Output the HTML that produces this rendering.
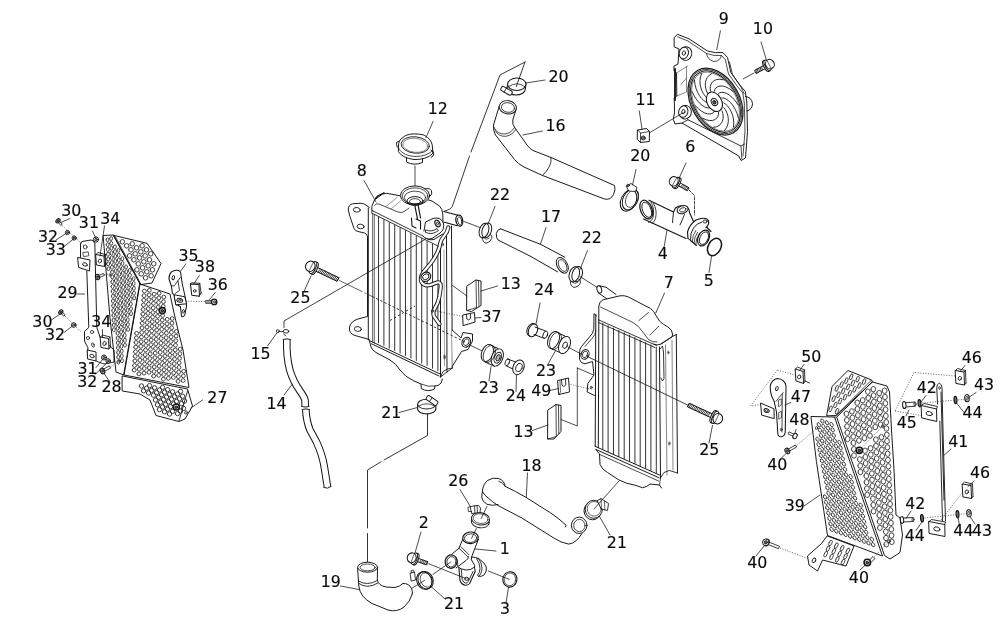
<!DOCTYPE html>
<html lang="en"><head><meta charset="utf-8"><title>Cooling system - exploded view</title>
<style>html,body{margin:0;padding:0;background:#fff;overflow:hidden}svg{display:block}text{font-family:"DejaVu Sans","Liberation Sans",sans-serif;fill:#0a0a0a;stroke:#0a0a0a;stroke-width:0.15px;stroke-linejoin:round}</style></head>
<body>
<svg width="1000" height="631" viewBox="0 0 1000 631" stroke-linecap="round" stroke-linejoin="round">
<rect width="1000" height="631" fill="#fff"/>
<g id="guard-left">
<path d="M106.1 239.7a1.45 2.0 5 1 0 2.9 0.3a1.45 2.0 5 1 0 -2.9 -0.3M106.2 244.5a1.45 2.0 5 1 0 2.9 0.3a1.45 2.0 5 1 0 -2.9 -0.3M106.4 249.3a1.45 2.0 5 1 0 2.9 0.3a1.45 2.0 5 1 0 -2.9 -0.3M106.5 254.1a1.45 2.0 5 1 0 2.9 0.3a1.45 2.0 5 1 0 -2.9 -0.3M106.7 258.9a1.45 2.0 5 1 0 2.9 0.3a1.45 2.0 5 1 0 -2.9 -0.3M106.8 263.7a1.45 2.0 5 1 0 2.9 0.3a1.45 2.0 5 1 0 -2.9 -0.3M107.0 268.5a1.45 2.0 5 1 0 2.9 0.3a1.45 2.0 5 1 0 -2.9 -0.3M109.6 238.4a1.45 2.0 5 1 0 2.9 0.3a1.45 2.0 5 1 0 -2.9 -0.3M109.7 243.2a1.45 2.0 5 1 0 2.9 0.3a1.45 2.0 5 1 0 -2.9 -0.3M109.9 248.0a1.45 2.0 5 1 0 2.9 0.3a1.45 2.0 5 1 0 -2.9 -0.3M110.0 252.8a1.45 2.0 5 1 0 2.9 0.3a1.45 2.0 5 1 0 -2.9 -0.3M110.2 257.6a1.45 2.0 5 1 0 2.9 0.3a1.45 2.0 5 1 0 -2.9 -0.3M110.3 262.4a1.45 2.0 5 1 0 2.9 0.3a1.45 2.0 5 1 0 -2.9 -0.3M110.5 267.2a1.45 2.0 5 1 0 2.9 0.3a1.45 2.0 5 1 0 -2.9 -0.3M110.6 272.0a1.45 2.0 5 1 0 2.9 0.3a1.45 2.0 5 1 0 -2.9 -0.3M110.8 276.8a1.45 2.0 5 1 0 2.9 0.3a1.45 2.0 5 1 0 -2.9 -0.3M110.9 281.6a1.45 2.0 5 1 0 2.9 0.3a1.45 2.0 5 1 0 -2.9 -0.3M111.1 286.4a1.45 2.0 5 1 0 2.9 0.3a1.45 2.0 5 1 0 -2.9 -0.3M111.2 291.2a1.45 2.0 5 1 0 2.9 0.3a1.45 2.0 5 1 0 -2.9 -0.3M111.4 296.0a1.45 2.0 5 1 0 2.9 0.3a1.45 2.0 5 1 0 -2.9 -0.3M111.5 300.8a1.45 2.0 5 1 0 2.9 0.3a1.45 2.0 5 1 0 -2.9 -0.3M111.7 305.6a1.45 2.0 5 1 0 2.9 0.3a1.45 2.0 5 1 0 -2.9 -0.3M111.8 310.4a1.45 2.0 5 1 0 2.9 0.3a1.45 2.0 5 1 0 -2.9 -0.3M112.0 315.2a1.45 2.0 5 1 0 2.9 0.3a1.45 2.0 5 1 0 -2.9 -0.3M112.1 320.0a1.45 2.0 5 1 0 2.9 0.3a1.45 2.0 5 1 0 -2.9 -0.3M112.3 324.8a1.45 2.0 5 1 0 2.9 0.3a1.45 2.0 5 1 0 -2.9 -0.3M112.4 329.6a1.45 2.0 5 1 0 2.9 0.3a1.45 2.0 5 1 0 -2.9 -0.3M113.4 246.7a1.45 2.0 5 1 0 2.9 0.3a1.45 2.0 5 1 0 -2.9 -0.3M113.5 251.5a1.45 2.0 5 1 0 2.9 0.3a1.45 2.0 5 1 0 -2.9 -0.3M113.7 256.3a1.45 2.0 5 1 0 2.9 0.3a1.45 2.0 5 1 0 -2.9 -0.3M113.8 261.1a1.45 2.0 5 1 0 2.9 0.3a1.45 2.0 5 1 0 -2.9 -0.3M114.0 265.9a1.45 2.0 5 1 0 2.9 0.3a1.45 2.0 5 1 0 -2.9 -0.3M114.1 270.7a1.45 2.0 5 1 0 2.9 0.3a1.45 2.0 5 1 0 -2.9 -0.3M114.3 275.5a1.45 2.0 5 1 0 2.9 0.3a1.45 2.0 5 1 0 -2.9 -0.3M114.4 280.3a1.45 2.0 5 1 0 2.9 0.3a1.45 2.0 5 1 0 -2.9 -0.3M114.6 285.1a1.45 2.0 5 1 0 2.9 0.3a1.45 2.0 5 1 0 -2.9 -0.3M114.7 289.9a1.45 2.0 5 1 0 2.9 0.3a1.45 2.0 5 1 0 -2.9 -0.3M114.9 294.7a1.45 2.0 5 1 0 2.9 0.3a1.45 2.0 5 1 0 -2.9 -0.3M115.0 299.5a1.45 2.0 5 1 0 2.9 0.3a1.45 2.0 5 1 0 -2.9 -0.3M115.2 304.3a1.45 2.0 5 1 0 2.9 0.3a1.45 2.0 5 1 0 -2.9 -0.3M115.3 309.1a1.45 2.0 5 1 0 2.9 0.3a1.45 2.0 5 1 0 -2.9 -0.3M115.5 313.9a1.45 2.0 5 1 0 2.9 0.3a1.45 2.0 5 1 0 -2.9 -0.3M115.6 318.7a1.45 2.0 5 1 0 2.9 0.3a1.45 2.0 5 1 0 -2.9 -0.3M115.8 323.5a1.45 2.0 5 1 0 2.9 0.3a1.45 2.0 5 1 0 -2.9 -0.3M115.9 328.3a1.45 2.0 5 1 0 2.9 0.3a1.45 2.0 5 1 0 -2.9 -0.3M116.1 333.1a1.45 2.0 5 1 0 2.9 0.3a1.45 2.0 5 1 0 -2.9 -0.3M116.2 337.9a1.45 2.0 5 1 0 2.9 0.3a1.45 2.0 5 1 0 -2.9 -0.3M116.4 342.7a1.45 2.0 5 1 0 2.9 0.3a1.45 2.0 5 1 0 -2.9 -0.3M116.5 347.5a1.45 2.0 5 1 0 2.9 0.3a1.45 2.0 5 1 0 -2.9 -0.3M116.7 352.3a1.45 2.0 5 1 0 2.9 0.3a1.45 2.0 5 1 0 -2.9 -0.3M116.8 357.1a1.45 2.0 5 1 0 2.9 0.3a1.45 2.0 5 1 0 -2.9 -0.3M117.0 361.9a1.45 2.0 5 1 0 2.9 0.3a1.45 2.0 5 1 0 -2.9 -0.3M117.0 250.2a1.45 2.0 5 1 0 2.9 0.3a1.45 2.0 5 1 0 -2.9 -0.3M117.2 255.0a1.45 2.0 5 1 0 2.9 0.3a1.45 2.0 5 1 0 -2.9 -0.3M117.3 259.8a1.45 2.0 5 1 0 2.9 0.3a1.45 2.0 5 1 0 -2.9 -0.3M117.5 264.6a1.45 2.0 5 1 0 2.9 0.3a1.45 2.0 5 1 0 -2.9 -0.3M117.6 269.4a1.45 2.0 5 1 0 2.9 0.3a1.45 2.0 5 1 0 -2.9 -0.3M117.8 274.2a1.45 2.0 5 1 0 2.9 0.3a1.45 2.0 5 1 0 -2.9 -0.3M117.9 279.0a1.45 2.0 5 1 0 2.9 0.3a1.45 2.0 5 1 0 -2.9 -0.3M118.1 283.8a1.45 2.0 5 1 0 2.9 0.3a1.45 2.0 5 1 0 -2.9 -0.3M118.2 288.6a1.45 2.0 5 1 0 2.9 0.3a1.45 2.0 5 1 0 -2.9 -0.3M118.4 293.4a1.45 2.0 5 1 0 2.9 0.3a1.45 2.0 5 1 0 -2.9 -0.3M118.5 298.2a1.45 2.0 5 1 0 2.9 0.3a1.45 2.0 5 1 0 -2.9 -0.3M118.7 303.0a1.45 2.0 5 1 0 2.9 0.3a1.45 2.0 5 1 0 -2.9 -0.3M118.8 307.8a1.45 2.0 5 1 0 2.9 0.3a1.45 2.0 5 1 0 -2.9 -0.3M119.0 312.6a1.45 2.0 5 1 0 2.9 0.3a1.45 2.0 5 1 0 -2.9 -0.3M119.1 317.4a1.45 2.0 5 1 0 2.9 0.3a1.45 2.0 5 1 0 -2.9 -0.3M119.3 322.2a1.45 2.0 5 1 0 2.9 0.3a1.45 2.0 5 1 0 -2.9 -0.3M119.4 327.0a1.45 2.0 5 1 0 2.9 0.3a1.45 2.0 5 1 0 -2.9 -0.3M119.6 331.8a1.45 2.0 5 1 0 2.9 0.3a1.45 2.0 5 1 0 -2.9 -0.3M119.7 336.6a1.45 2.0 5 1 0 2.9 0.3a1.45 2.0 5 1 0 -2.9 -0.3M119.9 341.4a1.45 2.0 5 1 0 2.9 0.3a1.45 2.0 5 1 0 -2.9 -0.3M120.0 346.2a1.45 2.0 5 1 0 2.9 0.3a1.45 2.0 5 1 0 -2.9 -0.3M120.2 351.0a1.45 2.0 5 1 0 2.9 0.3a1.45 2.0 5 1 0 -2.9 -0.3M120.3 355.8a1.45 2.0 5 1 0 2.9 0.3a1.45 2.0 5 1 0 -2.9 -0.3M120.5 360.6a1.45 2.0 5 1 0 2.9 0.3a1.45 2.0 5 1 0 -2.9 -0.3M120.8 258.5a1.45 2.0 5 1 0 2.9 0.3a1.45 2.0 5 1 0 -2.9 -0.3M121.0 263.3a1.45 2.0 5 1 0 2.9 0.3a1.45 2.0 5 1 0 -2.9 -0.3M121.1 268.1a1.45 2.0 5 1 0 2.9 0.3a1.45 2.0 5 1 0 -2.9 -0.3M121.3 272.9a1.45 2.0 5 1 0 2.9 0.3a1.45 2.0 5 1 0 -2.9 -0.3M121.4 277.7a1.45 2.0 5 1 0 2.9 0.3a1.45 2.0 5 1 0 -2.9 -0.3M121.6 282.5a1.45 2.0 5 1 0 2.9 0.3a1.45 2.0 5 1 0 -2.9 -0.3M121.7 287.3a1.45 2.0 5 1 0 2.9 0.3a1.45 2.0 5 1 0 -2.9 -0.3M121.9 292.1a1.45 2.0 5 1 0 2.9 0.3a1.45 2.0 5 1 0 -2.9 -0.3M122.0 296.9a1.45 2.0 5 1 0 2.9 0.3a1.45 2.0 5 1 0 -2.9 -0.3M122.2 301.7a1.45 2.0 5 1 0 2.9 0.3a1.45 2.0 5 1 0 -2.9 -0.3M122.3 306.5a1.45 2.0 5 1 0 2.9 0.3a1.45 2.0 5 1 0 -2.9 -0.3M122.5 311.3a1.45 2.0 5 1 0 2.9 0.3a1.45 2.0 5 1 0 -2.9 -0.3M122.6 316.1a1.45 2.0 5 1 0 2.9 0.3a1.45 2.0 5 1 0 -2.9 -0.3M122.8 320.9a1.45 2.0 5 1 0 2.9 0.3a1.45 2.0 5 1 0 -2.9 -0.3M122.9 325.7a1.45 2.0 5 1 0 2.9 0.3a1.45 2.0 5 1 0 -2.9 -0.3M123.1 330.5a1.45 2.0 5 1 0 2.9 0.3a1.45 2.0 5 1 0 -2.9 -0.3M123.2 335.3a1.45 2.0 5 1 0 2.9 0.3a1.45 2.0 5 1 0 -2.9 -0.3M123.4 340.1a1.45 2.0 5 1 0 2.9 0.3a1.45 2.0 5 1 0 -2.9 -0.3M123.5 344.9a1.45 2.0 5 1 0 2.9 0.3a1.45 2.0 5 1 0 -2.9 -0.3M124.6 266.8a1.45 2.0 5 1 0 2.9 0.3a1.45 2.0 5 1 0 -2.9 -0.3M124.8 271.6a1.45 2.0 5 1 0 2.9 0.3a1.45 2.0 5 1 0 -2.9 -0.3M124.9 276.4a1.45 2.0 5 1 0 2.9 0.3a1.45 2.0 5 1 0 -2.9 -0.3M125.1 281.2a1.45 2.0 5 1 0 2.9 0.3a1.45 2.0 5 1 0 -2.9 -0.3M125.2 286.0a1.45 2.0 5 1 0 2.9 0.3a1.45 2.0 5 1 0 -2.9 -0.3M125.4 290.8a1.45 2.0 5 1 0 2.9 0.3a1.45 2.0 5 1 0 -2.9 -0.3M125.5 295.6a1.45 2.0 5 1 0 2.9 0.3a1.45 2.0 5 1 0 -2.9 -0.3M125.7 300.4a1.45 2.0 5 1 0 2.9 0.3a1.45 2.0 5 1 0 -2.9 -0.3M125.8 305.2a1.45 2.0 5 1 0 2.9 0.3a1.45 2.0 5 1 0 -2.9 -0.3M126.0 310.0a1.45 2.0 5 1 0 2.9 0.3a1.45 2.0 5 1 0 -2.9 -0.3M126.1 314.8a1.45 2.0 5 1 0 2.9 0.3a1.45 2.0 5 1 0 -2.9 -0.3M126.3 319.6a1.45 2.0 5 1 0 2.9 0.3a1.45 2.0 5 1 0 -2.9 -0.3M126.4 324.4a1.45 2.0 5 1 0 2.9 0.3a1.45 2.0 5 1 0 -2.9 -0.3M126.6 329.2a1.45 2.0 5 1 0 2.9 0.3a1.45 2.0 5 1 0 -2.9 -0.3M128.3 270.3a1.45 2.0 5 1 0 2.9 0.3a1.45 2.0 5 1 0 -2.9 -0.3M128.4 275.1a1.45 2.0 5 1 0 2.9 0.3a1.45 2.0 5 1 0 -2.9 -0.3M128.6 279.9a1.45 2.0 5 1 0 2.9 0.3a1.45 2.0 5 1 0 -2.9 -0.3M128.7 284.7a1.45 2.0 5 1 0 2.9 0.3a1.45 2.0 5 1 0 -2.9 -0.3M128.9 289.5a1.45 2.0 5 1 0 2.9 0.3a1.45 2.0 5 1 0 -2.9 -0.3M129.0 294.3a1.45 2.0 5 1 0 2.9 0.3a1.45 2.0 5 1 0 -2.9 -0.3M129.2 299.1a1.45 2.0 5 1 0 2.9 0.3a1.45 2.0 5 1 0 -2.9 -0.3M129.3 303.9a1.45 2.0 5 1 0 2.9 0.3a1.45 2.0 5 1 0 -2.9 -0.3M129.5 308.7a1.45 2.0 5 1 0 2.9 0.3a1.45 2.0 5 1 0 -2.9 -0.3M129.6 313.5a1.45 2.0 5 1 0 2.9 0.3a1.45 2.0 5 1 0 -2.9 -0.3M132.1 278.6a1.45 2.0 5 1 0 2.9 0.3a1.45 2.0 5 1 0 -2.9 -0.3M132.2 283.4a1.45 2.0 5 1 0 2.9 0.3a1.45 2.0 5 1 0 -2.9 -0.3M132.4 288.2a1.45 2.0 5 1 0 2.9 0.3a1.45 2.0 5 1 0 -2.9 -0.3M132.5 293.0a1.45 2.0 5 1 0 2.9 0.3a1.45 2.0 5 1 0 -2.9 -0.3M132.7 297.8a1.45 2.0 5 1 0 2.9 0.3a1.45 2.0 5 1 0 -2.9 -0.3" fill="none" stroke="#2a2a2a" stroke-width="0.85"/>
<path d="M120.0 241.8a2.3 2.3 0 1 0 4.6 0.0a2.3 2.3 0 1 0 -4.6 -0.0M124.3 245.8a2.3 2.3 0 1 0 4.6 0.0a2.3 2.3 0 1 0 -4.6 -0.0M129.9 243.8a2.3 2.3 0 1 0 4.6 0.0a2.3 2.3 0 1 0 -4.6 -0.0M128.6 249.8a2.3 2.3 0 1 0 4.6 0.0a2.3 2.3 0 1 0 -4.6 -0.0M134.2 247.8a2.3 2.3 0 1 0 4.6 0.0a2.3 2.3 0 1 0 -4.6 -0.0M139.8 245.8a2.3 2.3 0 1 0 4.6 0.0a2.3 2.3 0 1 0 -4.6 -0.0M127.3 255.8a2.3 2.3 0 1 0 4.6 0.0a2.3 2.3 0 1 0 -4.6 -0.0M132.9 253.8a2.3 2.3 0 1 0 4.6 0.0a2.3 2.3 0 1 0 -4.6 -0.0M138.5 251.8a2.3 2.3 0 1 0 4.6 0.0a2.3 2.3 0 1 0 -4.6 -0.0M144.1 249.8a2.3 2.3 0 1 0 4.6 0.0a2.3 2.3 0 1 0 -4.6 -0.0M131.6 259.8a2.3 2.3 0 1 0 4.6 0.0a2.3 2.3 0 1 0 -4.6 -0.0M137.2 257.8a2.3 2.3 0 1 0 4.6 0.0a2.3 2.3 0 1 0 -4.6 -0.0M142.8 255.8a2.3 2.3 0 1 0 4.6 0.0a2.3 2.3 0 1 0 -4.6 -0.0M148.4 253.8a2.3 2.3 0 1 0 4.6 0.0a2.3 2.3 0 1 0 -4.6 -0.0M135.9 263.8a2.3 2.3 0 1 0 4.6 0.0a2.3 2.3 0 1 0 -4.6 -0.0M141.5 261.8a2.3 2.3 0 1 0 4.6 0.0a2.3 2.3 0 1 0 -4.6 -0.0M147.1 259.8a2.3 2.3 0 1 0 4.6 0.0a2.3 2.3 0 1 0 -4.6 -0.0M134.6 269.8a2.3 2.3 0 1 0 4.6 0.0a2.3 2.3 0 1 0 -4.6 -0.0M140.2 267.8a2.3 2.3 0 1 0 4.6 0.0a2.3 2.3 0 1 0 -4.6 -0.0M145.8 265.8a2.3 2.3 0 1 0 4.6 0.0a2.3 2.3 0 1 0 -4.6 -0.0M151.4 263.8a2.3 2.3 0 1 0 4.6 0.0a2.3 2.3 0 1 0 -4.6 -0.0M138.9 273.8a2.3 2.3 0 1 0 4.6 0.0a2.3 2.3 0 1 0 -4.6 -0.0M144.5 271.8a2.3 2.3 0 1 0 4.6 0.0a2.3 2.3 0 1 0 -4.6 -0.0M150.1 269.8a2.3 2.3 0 1 0 4.6 0.0a2.3 2.3 0 1 0 -4.6 -0.0M143.2 277.8a2.3 2.3 0 1 0 4.6 0.0a2.3 2.3 0 1 0 -4.6 -0.0M148.8 275.8a2.3 2.3 0 1 0 4.6 0.0a2.3 2.3 0 1 0 -4.6 -0.0" fill="none" stroke="#2a2a2a" stroke-width="0.9"/>
<path d="M134.7 333.3a1.95 1.9 0 1 0 3.9 0.0a1.95 1.9 0 1 0 -3.9 -0.0M134.4 337.9a1.95 1.9 0 1 0 3.9 0.0a1.95 1.9 0 1 0 -3.9 -0.0M134.1 342.5a1.95 1.9 0 1 0 3.9 0.0a1.95 1.9 0 1 0 -3.9 -0.0M133.8 347.1a1.95 1.9 0 1 0 3.9 0.0a1.95 1.9 0 1 0 -3.9 -0.0M133.5 351.7a1.95 1.9 0 1 0 3.9 0.0a1.95 1.9 0 1 0 -3.9 -0.0M133.2 356.3a1.95 1.9 0 1 0 3.9 0.0a1.95 1.9 0 1 0 -3.9 -0.0M132.9 360.9a1.95 1.9 0 1 0 3.9 0.0a1.95 1.9 0 1 0 -3.9 -0.0M132.6 365.5a1.95 1.9 0 1 0 3.9 0.0a1.95 1.9 0 1 0 -3.9 -0.0M132.2 370.1a1.95 1.9 0 1 0 3.9 0.0a1.95 1.9 0 1 0 -3.9 -0.0M142.4 291.1a1.95 1.9 0 1 0 3.9 0.0a1.95 1.9 0 1 0 -3.9 -0.0M142.1 295.7a1.95 1.9 0 1 0 3.9 0.0a1.95 1.9 0 1 0 -3.9 -0.0M141.8 300.3a1.95 1.9 0 1 0 3.9 0.0a1.95 1.9 0 1 0 -3.9 -0.0M141.5 304.9a1.95 1.9 0 1 0 3.9 0.0a1.95 1.9 0 1 0 -3.9 -0.0M141.2 309.5a1.95 1.9 0 1 0 3.9 0.0a1.95 1.9 0 1 0 -3.9 -0.0M140.9 314.1a1.95 1.9 0 1 0 3.9 0.0a1.95 1.9 0 1 0 -3.9 -0.0M140.6 318.7a1.95 1.9 0 1 0 3.9 0.0a1.95 1.9 0 1 0 -3.9 -0.0M140.2 323.3a1.95 1.9 0 1 0 3.9 0.0a1.95 1.9 0 1 0 -3.9 -0.0M140.0 327.9a1.95 1.9 0 1 0 3.9 0.0a1.95 1.9 0 1 0 -3.9 -0.0M139.7 332.5a1.95 1.9 0 1 0 3.9 0.0a1.95 1.9 0 1 0 -3.9 -0.0M139.4 337.1a1.95 1.9 0 1 0 3.9 0.0a1.95 1.9 0 1 0 -3.9 -0.0M139.1 341.7a1.95 1.9 0 1 0 3.9 0.0a1.95 1.9 0 1 0 -3.9 -0.0M138.8 346.3a1.95 1.9 0 1 0 3.9 0.0a1.95 1.9 0 1 0 -3.9 -0.0M138.5 350.9a1.95 1.9 0 1 0 3.9 0.0a1.95 1.9 0 1 0 -3.9 -0.0M138.2 355.5a1.95 1.9 0 1 0 3.9 0.0a1.95 1.9 0 1 0 -3.9 -0.0M137.9 360.1a1.95 1.9 0 1 0 3.9 0.0a1.95 1.9 0 1 0 -3.9 -0.0M137.6 364.7a1.95 1.9 0 1 0 3.9 0.0a1.95 1.9 0 1 0 -3.9 -0.0M137.2 369.3a1.95 1.9 0 1 0 3.9 0.0a1.95 1.9 0 1 0 -3.9 -0.0M137.0 373.9a1.95 1.9 0 1 0 3.9 0.0a1.95 1.9 0 1 0 -3.9 -0.0M147.4 290.3a1.95 1.9 0 1 0 3.9 0.0a1.95 1.9 0 1 0 -3.9 -0.0M147.1 294.9a1.95 1.9 0 1 0 3.9 0.0a1.95 1.9 0 1 0 -3.9 -0.0M146.8 299.5a1.95 1.9 0 1 0 3.9 0.0a1.95 1.9 0 1 0 -3.9 -0.0M146.5 304.1a1.95 1.9 0 1 0 3.9 0.0a1.95 1.9 0 1 0 -3.9 -0.0M146.2 308.7a1.95 1.9 0 1 0 3.9 0.0a1.95 1.9 0 1 0 -3.9 -0.0M145.9 313.3a1.95 1.9 0 1 0 3.9 0.0a1.95 1.9 0 1 0 -3.9 -0.0M145.6 317.9a1.95 1.9 0 1 0 3.9 0.0a1.95 1.9 0 1 0 -3.9 -0.0M145.2 322.5a1.95 1.9 0 1 0 3.9 0.0a1.95 1.9 0 1 0 -3.9 -0.0M145.0 327.1a1.95 1.9 0 1 0 3.9 0.0a1.95 1.9 0 1 0 -3.9 -0.0M144.7 331.7a1.95 1.9 0 1 0 3.9 0.0a1.95 1.9 0 1 0 -3.9 -0.0M144.4 336.3a1.95 1.9 0 1 0 3.9 0.0a1.95 1.9 0 1 0 -3.9 -0.0M144.1 340.9a1.95 1.9 0 1 0 3.9 0.0a1.95 1.9 0 1 0 -3.9 -0.0M143.8 345.5a1.95 1.9 0 1 0 3.9 0.0a1.95 1.9 0 1 0 -3.9 -0.0M143.5 350.1a1.95 1.9 0 1 0 3.9 0.0a1.95 1.9 0 1 0 -3.9 -0.0M143.2 354.7a1.95 1.9 0 1 0 3.9 0.0a1.95 1.9 0 1 0 -3.9 -0.0M142.9 359.3a1.95 1.9 0 1 0 3.9 0.0a1.95 1.9 0 1 0 -3.9 -0.0M142.6 363.9a1.95 1.9 0 1 0 3.9 0.0a1.95 1.9 0 1 0 -3.9 -0.0M142.2 368.5a1.95 1.9 0 1 0 3.9 0.0a1.95 1.9 0 1 0 -3.9 -0.0M142.0 373.1a1.95 1.9 0 1 0 3.9 0.0a1.95 1.9 0 1 0 -3.9 -0.0M152.1 294.1a1.95 1.9 0 1 0 3.9 0.0a1.95 1.9 0 1 0 -3.9 -0.0M151.8 298.7a1.95 1.9 0 1 0 3.9 0.0a1.95 1.9 0 1 0 -3.9 -0.0M151.5 303.3a1.95 1.9 0 1 0 3.9 0.0a1.95 1.9 0 1 0 -3.9 -0.0M151.2 307.9a1.95 1.9 0 1 0 3.9 0.0a1.95 1.9 0 1 0 -3.9 -0.0M150.9 312.5a1.95 1.9 0 1 0 3.9 0.0a1.95 1.9 0 1 0 -3.9 -0.0M150.6 317.1a1.95 1.9 0 1 0 3.9 0.0a1.95 1.9 0 1 0 -3.9 -0.0M150.2 321.7a1.95 1.9 0 1 0 3.9 0.0a1.95 1.9 0 1 0 -3.9 -0.0M150.0 326.3a1.95 1.9 0 1 0 3.9 0.0a1.95 1.9 0 1 0 -3.9 -0.0M149.7 330.9a1.95 1.9 0 1 0 3.9 0.0a1.95 1.9 0 1 0 -3.9 -0.0M149.4 335.5a1.95 1.9 0 1 0 3.9 0.0a1.95 1.9 0 1 0 -3.9 -0.0M149.1 340.1a1.95 1.9 0 1 0 3.9 0.0a1.95 1.9 0 1 0 -3.9 -0.0M148.8 344.7a1.95 1.9 0 1 0 3.9 0.0a1.95 1.9 0 1 0 -3.9 -0.0M148.5 349.3a1.95 1.9 0 1 0 3.9 0.0a1.95 1.9 0 1 0 -3.9 -0.0M148.2 353.9a1.95 1.9 0 1 0 3.9 0.0a1.95 1.9 0 1 0 -3.9 -0.0M147.9 358.5a1.95 1.9 0 1 0 3.9 0.0a1.95 1.9 0 1 0 -3.9 -0.0M147.6 363.1a1.95 1.9 0 1 0 3.9 0.0a1.95 1.9 0 1 0 -3.9 -0.0M147.2 367.7a1.95 1.9 0 1 0 3.9 0.0a1.95 1.9 0 1 0 -3.9 -0.0M147.0 372.3a1.95 1.9 0 1 0 3.9 0.0a1.95 1.9 0 1 0 -3.9 -0.0M157.1 293.3a1.95 1.9 0 1 0 3.9 0.0a1.95 1.9 0 1 0 -3.9 -0.0M156.8 297.9a1.95 1.9 0 1 0 3.9 0.0a1.95 1.9 0 1 0 -3.9 -0.0M156.5 302.5a1.95 1.9 0 1 0 3.9 0.0a1.95 1.9 0 1 0 -3.9 -0.0M156.2 307.1a1.95 1.9 0 1 0 3.9 0.0a1.95 1.9 0 1 0 -3.9 -0.0M155.9 311.7a1.95 1.9 0 1 0 3.9 0.0a1.95 1.9 0 1 0 -3.9 -0.0M155.6 316.3a1.95 1.9 0 1 0 3.9 0.0a1.95 1.9 0 1 0 -3.9 -0.0M155.2 320.9a1.95 1.9 0 1 0 3.9 0.0a1.95 1.9 0 1 0 -3.9 -0.0M155.0 325.5a1.95 1.9 0 1 0 3.9 0.0a1.95 1.9 0 1 0 -3.9 -0.0M154.7 330.1a1.95 1.9 0 1 0 3.9 0.0a1.95 1.9 0 1 0 -3.9 -0.0M154.4 334.7a1.95 1.9 0 1 0 3.9 0.0a1.95 1.9 0 1 0 -3.9 -0.0M154.1 339.3a1.95 1.9 0 1 0 3.9 0.0a1.95 1.9 0 1 0 -3.9 -0.0M153.8 343.9a1.95 1.9 0 1 0 3.9 0.0a1.95 1.9 0 1 0 -3.9 -0.0M153.5 348.5a1.95 1.9 0 1 0 3.9 0.0a1.95 1.9 0 1 0 -3.9 -0.0M153.2 353.1a1.95 1.9 0 1 0 3.9 0.0a1.95 1.9 0 1 0 -3.9 -0.0M152.9 357.7a1.95 1.9 0 1 0 3.9 0.0a1.95 1.9 0 1 0 -3.9 -0.0M152.6 362.3a1.95 1.9 0 1 0 3.9 0.0a1.95 1.9 0 1 0 -3.9 -0.0M152.2 366.9a1.95 1.9 0 1 0 3.9 0.0a1.95 1.9 0 1 0 -3.9 -0.0M152.0 371.5a1.95 1.9 0 1 0 3.9 0.0a1.95 1.9 0 1 0 -3.9 -0.0M151.7 376.1a1.95 1.9 0 1 0 3.9 0.0a1.95 1.9 0 1 0 -3.9 -0.0M161.8 297.1a1.95 1.9 0 1 0 3.9 0.0a1.95 1.9 0 1 0 -3.9 -0.0M161.5 301.7a1.95 1.9 0 1 0 3.9 0.0a1.95 1.9 0 1 0 -3.9 -0.0M161.2 306.3a1.95 1.9 0 1 0 3.9 0.0a1.95 1.9 0 1 0 -3.9 -0.0M160.6 315.5a1.95 1.9 0 1 0 3.9 0.0a1.95 1.9 0 1 0 -3.9 -0.0M160.2 320.1a1.95 1.9 0 1 0 3.9 0.0a1.95 1.9 0 1 0 -3.9 -0.0M160.0 324.7a1.95 1.9 0 1 0 3.9 0.0a1.95 1.9 0 1 0 -3.9 -0.0M159.7 329.3a1.95 1.9 0 1 0 3.9 0.0a1.95 1.9 0 1 0 -3.9 -0.0M159.4 333.9a1.95 1.9 0 1 0 3.9 0.0a1.95 1.9 0 1 0 -3.9 -0.0M159.1 338.5a1.95 1.9 0 1 0 3.9 0.0a1.95 1.9 0 1 0 -3.9 -0.0M158.8 343.1a1.95 1.9 0 1 0 3.9 0.0a1.95 1.9 0 1 0 -3.9 -0.0M158.5 347.7a1.95 1.9 0 1 0 3.9 0.0a1.95 1.9 0 1 0 -3.9 -0.0M158.2 352.3a1.95 1.9 0 1 0 3.9 0.0a1.95 1.9 0 1 0 -3.9 -0.0M157.9 356.9a1.95 1.9 0 1 0 3.9 0.0a1.95 1.9 0 1 0 -3.9 -0.0M157.6 361.5a1.95 1.9 0 1 0 3.9 0.0a1.95 1.9 0 1 0 -3.9 -0.0M157.2 366.1a1.95 1.9 0 1 0 3.9 0.0a1.95 1.9 0 1 0 -3.9 -0.0M157.0 370.7a1.95 1.9 0 1 0 3.9 0.0a1.95 1.9 0 1 0 -3.9 -0.0M156.7 375.3a1.95 1.9 0 1 0 3.9 0.0a1.95 1.9 0 1 0 -3.9 -0.0M165.2 319.3a1.95 1.9 0 1 0 3.9 0.0a1.95 1.9 0 1 0 -3.9 -0.0M165.0 323.9a1.95 1.9 0 1 0 3.9 0.0a1.95 1.9 0 1 0 -3.9 -0.0M164.7 328.5a1.95 1.9 0 1 0 3.9 0.0a1.95 1.9 0 1 0 -3.9 -0.0M164.4 333.1a1.95 1.9 0 1 0 3.9 0.0a1.95 1.9 0 1 0 -3.9 -0.0M164.1 337.7a1.95 1.9 0 1 0 3.9 0.0a1.95 1.9 0 1 0 -3.9 -0.0M163.8 342.3a1.95 1.9 0 1 0 3.9 0.0a1.95 1.9 0 1 0 -3.9 -0.0M163.5 346.9a1.95 1.9 0 1 0 3.9 0.0a1.95 1.9 0 1 0 -3.9 -0.0M163.2 351.5a1.95 1.9 0 1 0 3.9 0.0a1.95 1.9 0 1 0 -3.9 -0.0M162.9 356.1a1.95 1.9 0 1 0 3.9 0.0a1.95 1.9 0 1 0 -3.9 -0.0M162.6 360.7a1.95 1.9 0 1 0 3.9 0.0a1.95 1.9 0 1 0 -3.9 -0.0M162.2 365.3a1.95 1.9 0 1 0 3.9 0.0a1.95 1.9 0 1 0 -3.9 -0.0M162.0 369.9a1.95 1.9 0 1 0 3.9 0.0a1.95 1.9 0 1 0 -3.9 -0.0M161.7 374.5a1.95 1.9 0 1 0 3.9 0.0a1.95 1.9 0 1 0 -3.9 -0.0M161.4 379.1a1.95 1.9 0 1 0 3.9 0.0a1.95 1.9 0 1 0 -3.9 -0.0M170.2 318.5a1.95 1.9 0 1 0 3.9 0.0a1.95 1.9 0 1 0 -3.9 -0.0M170.0 323.1a1.95 1.9 0 1 0 3.9 0.0a1.95 1.9 0 1 0 -3.9 -0.0M169.7 327.7a1.95 1.9 0 1 0 3.9 0.0a1.95 1.9 0 1 0 -3.9 -0.0M169.4 332.3a1.95 1.9 0 1 0 3.9 0.0a1.95 1.9 0 1 0 -3.9 -0.0M169.1 336.9a1.95 1.9 0 1 0 3.9 0.0a1.95 1.9 0 1 0 -3.9 -0.0M168.8 341.5a1.95 1.9 0 1 0 3.9 0.0a1.95 1.9 0 1 0 -3.9 -0.0M168.5 346.1a1.95 1.9 0 1 0 3.9 0.0a1.95 1.9 0 1 0 -3.9 -0.0M168.2 350.7a1.95 1.9 0 1 0 3.9 0.0a1.95 1.9 0 1 0 -3.9 -0.0M167.9 355.3a1.95 1.9 0 1 0 3.9 0.0a1.95 1.9 0 1 0 -3.9 -0.0M167.6 359.9a1.95 1.9 0 1 0 3.9 0.0a1.95 1.9 0 1 0 -3.9 -0.0M167.2 364.5a1.95 1.9 0 1 0 3.9 0.0a1.95 1.9 0 1 0 -3.9 -0.0M167.0 369.1a1.95 1.9 0 1 0 3.9 0.0a1.95 1.9 0 1 0 -3.9 -0.0M166.7 373.7a1.95 1.9 0 1 0 3.9 0.0a1.95 1.9 0 1 0 -3.9 -0.0M166.4 378.3a1.95 1.9 0 1 0 3.9 0.0a1.95 1.9 0 1 0 -3.9 -0.0M174.4 331.5a1.95 1.9 0 1 0 3.9 0.0a1.95 1.9 0 1 0 -3.9 -0.0M174.1 336.1a1.95 1.9 0 1 0 3.9 0.0a1.95 1.9 0 1 0 -3.9 -0.0M173.8 340.7a1.95 1.9 0 1 0 3.9 0.0a1.95 1.9 0 1 0 -3.9 -0.0M173.5 345.3a1.95 1.9 0 1 0 3.9 0.0a1.95 1.9 0 1 0 -3.9 -0.0M173.2 349.9a1.95 1.9 0 1 0 3.9 0.0a1.95 1.9 0 1 0 -3.9 -0.0M172.9 354.5a1.95 1.9 0 1 0 3.9 0.0a1.95 1.9 0 1 0 -3.9 -0.0M172.6 359.1a1.95 1.9 0 1 0 3.9 0.0a1.95 1.9 0 1 0 -3.9 -0.0M172.2 363.7a1.95 1.9 0 1 0 3.9 0.0a1.95 1.9 0 1 0 -3.9 -0.0M172.0 368.3a1.95 1.9 0 1 0 3.9 0.0a1.95 1.9 0 1 0 -3.9 -0.0M171.7 372.9a1.95 1.9 0 1 0 3.9 0.0a1.95 1.9 0 1 0 -3.9 -0.0M171.4 377.5a1.95 1.9 0 1 0 3.9 0.0a1.95 1.9 0 1 0 -3.9 -0.0M178.2 349.1a1.95 1.9 0 1 0 3.9 0.0a1.95 1.9 0 1 0 -3.9 -0.0M177.9 353.7a1.95 1.9 0 1 0 3.9 0.0a1.95 1.9 0 1 0 -3.9 -0.0M177.6 358.3a1.95 1.9 0 1 0 3.9 0.0a1.95 1.9 0 1 0 -3.9 -0.0M177.2 362.9a1.95 1.9 0 1 0 3.9 0.0a1.95 1.9 0 1 0 -3.9 -0.0M177.0 367.5a1.95 1.9 0 1 0 3.9 0.0a1.95 1.9 0 1 0 -3.9 -0.0M176.7 372.1a1.95 1.9 0 1 0 3.9 0.0a1.95 1.9 0 1 0 -3.9 -0.0M176.4 376.7a1.95 1.9 0 1 0 3.9 0.0a1.95 1.9 0 1 0 -3.9 -0.0M176.1 381.3a1.95 1.9 0 1 0 3.9 0.0a1.95 1.9 0 1 0 -3.9 -0.0M181.7 371.3a1.95 1.9 0 1 0 3.9 0.0a1.95 1.9 0 1 0 -3.9 -0.0M181.4 375.9a1.95 1.9 0 1 0 3.9 0.0a1.95 1.9 0 1 0 -3.9 -0.0M181.1 380.5a1.95 1.9 0 1 0 3.9 0.0a1.95 1.9 0 1 0 -3.9 -0.0" fill="none" stroke="#2a2a2a" stroke-width="0.85"/>
<path d="M139.3 386.0a2.2 2.2 0 1 0 4.4 0.0a2.2 2.2 0 1 0 -4.4 -0.0M141.3 390.8a2.2 2.2 0 1 0 4.4 0.0a2.2 2.2 0 1 0 -4.4 -0.0M144.3 388.2a2.2 2.2 0 1 0 4.4 0.0a2.2 2.2 0 1 0 -4.4 -0.0M146.3 393.0a2.2 2.2 0 1 0 4.4 0.0a2.2 2.2 0 1 0 -4.4 -0.0M147.3 385.6a2.2 2.2 0 1 0 4.4 0.0a2.2 2.2 0 1 0 -4.4 -0.0M149.3 390.4a2.2 2.2 0 1 0 4.4 0.0a2.2 2.2 0 1 0 -4.4 -0.0M151.3 395.2a2.2 2.2 0 1 0 4.4 0.0a2.2 2.2 0 1 0 -4.4 -0.0M153.3 400.0a2.2 2.2 0 1 0 4.4 0.0a2.2 2.2 0 1 0 -4.4 -0.0M155.3 404.8a2.2 2.2 0 1 0 4.4 0.0a2.2 2.2 0 1 0 -4.4 -0.0M157.3 409.6a2.2 2.2 0 1 0 4.4 0.0a2.2 2.2 0 1 0 -4.4 -0.0M152.3 387.8a2.2 2.2 0 1 0 4.4 0.0a2.2 2.2 0 1 0 -4.4 -0.0M154.3 392.6a2.2 2.2 0 1 0 4.4 0.0a2.2 2.2 0 1 0 -4.4 -0.0M156.3 397.4a2.2 2.2 0 1 0 4.4 0.0a2.2 2.2 0 1 0 -4.4 -0.0M158.3 402.2a2.2 2.2 0 1 0 4.4 0.0a2.2 2.2 0 1 0 -4.4 -0.0M160.3 407.0a2.2 2.2 0 1 0 4.4 0.0a2.2 2.2 0 1 0 -4.4 -0.0M162.3 411.8a2.2 2.2 0 1 0 4.4 0.0a2.2 2.2 0 1 0 -4.4 -0.0M157.3 390.0a2.2 2.2 0 1 0 4.4 0.0a2.2 2.2 0 1 0 -4.4 -0.0M159.3 394.8a2.2 2.2 0 1 0 4.4 0.0a2.2 2.2 0 1 0 -4.4 -0.0M161.3 399.6a2.2 2.2 0 1 0 4.4 0.0a2.2 2.2 0 1 0 -4.4 -0.0M163.3 404.4a2.2 2.2 0 1 0 4.4 0.0a2.2 2.2 0 1 0 -4.4 -0.0M165.3 409.2a2.2 2.2 0 1 0 4.4 0.0a2.2 2.2 0 1 0 -4.4 -0.0M167.3 414.0a2.2 2.2 0 1 0 4.4 0.0a2.2 2.2 0 1 0 -4.4 -0.0M160.3 387.4a2.2 2.2 0 1 0 4.4 0.0a2.2 2.2 0 1 0 -4.4 -0.0M162.3 392.2a2.2 2.2 0 1 0 4.4 0.0a2.2 2.2 0 1 0 -4.4 -0.0M164.3 397.0a2.2 2.2 0 1 0 4.4 0.0a2.2 2.2 0 1 0 -4.4 -0.0M166.3 401.8a2.2 2.2 0 1 0 4.4 0.0a2.2 2.2 0 1 0 -4.4 -0.0M168.3 406.6a2.2 2.2 0 1 0 4.4 0.0a2.2 2.2 0 1 0 -4.4 -0.0M170.3 411.4a2.2 2.2 0 1 0 4.4 0.0a2.2 2.2 0 1 0 -4.4 -0.0M165.3 389.6a2.2 2.2 0 1 0 4.4 0.0a2.2 2.2 0 1 0 -4.4 -0.0M167.3 394.4a2.2 2.2 0 1 0 4.4 0.0a2.2 2.2 0 1 0 -4.4 -0.0M169.3 399.2a2.2 2.2 0 1 0 4.4 0.0a2.2 2.2 0 1 0 -4.4 -0.0M171.3 404.0a2.2 2.2 0 1 0 4.4 0.0a2.2 2.2 0 1 0 -4.4 -0.0M175.3 413.6a2.2 2.2 0 1 0 4.4 0.0a2.2 2.2 0 1 0 -4.4 -0.0M170.3 391.8a2.2 2.2 0 1 0 4.4 0.0a2.2 2.2 0 1 0 -4.4 -0.0M172.3 396.6a2.2 2.2 0 1 0 4.4 0.0a2.2 2.2 0 1 0 -4.4 -0.0M174.3 401.4a2.2 2.2 0 1 0 4.4 0.0a2.2 2.2 0 1 0 -4.4 -0.0M178.3 411.0a2.2 2.2 0 1 0 4.4 0.0a2.2 2.2 0 1 0 -4.4 -0.0M175.3 394.0a2.2 2.2 0 1 0 4.4 0.0a2.2 2.2 0 1 0 -4.4 -0.0M177.3 398.8a2.2 2.2 0 1 0 4.4 0.0a2.2 2.2 0 1 0 -4.4 -0.0M179.3 403.6a2.2 2.2 0 1 0 4.4 0.0a2.2 2.2 0 1 0 -4.4 -0.0M181.3 408.4a2.2 2.2 0 1 0 4.4 0.0a2.2 2.2 0 1 0 -4.4 -0.0M178.3 391.4a2.2 2.2 0 1 0 4.4 0.0a2.2 2.2 0 1 0 -4.4 -0.0M180.3 396.2a2.2 2.2 0 1 0 4.4 0.0a2.2 2.2 0 1 0 -4.4 -0.0M182.3 401.0a2.2 2.2 0 1 0 4.4 0.0a2.2 2.2 0 1 0 -4.4 -0.0" fill="none" stroke="#2a2a2a" stroke-width="0.9"/>
<path d="M103.5 235.5 L113.5 235.0 L140.0 284.0 L124.0 375.0 L116.0 372.0 L110.0 318.0 Z" fill="none" stroke="#141414" stroke-width="0.97" />
<path d="M113.5 235.3 L147.0 243.3 L161.0 263.5 L152.0 283.0 L141.0 284.5 Z" fill="none" stroke="#141414" stroke-width="0.97" />
<path d="M140.0 284.0 L170.0 294.0 L174.0 313.0 L178.0 330.0 L183.0 350.0 L189.0 387.5 L124.0 375.0 Z" fill="none" stroke="#141414" stroke-width="0.97" />
<path d="M122.5 376.0 L187.5 389.0 L192.5 406.0 L185.0 419.0 L179.0 421.5 L156.0 415.5 L150.0 400.0 L140.0 394.0 L122.5 391.0 Z" fill="none" stroke="#141414" stroke-width="0.97" />
<line x1="187.5" y1="391.0" x2="179.0" y2="421.0" stroke="#141414" stroke-width="0.86"/>
<line x1="115.3" y1="236.5" x2="141.3" y2="285.0" stroke="#141414" stroke-width="0.76"/>
<ellipse cx="186.0" cy="412.5" rx="1.20" ry="1.80" fill="none" stroke="#141414" stroke-width="0.76" transform="rotate(20 186.0 412.5)"/>
<circle cx="162.3" cy="310.6" r="3.00" fill="#fff" stroke="#141414" stroke-width="1.62"/>
<circle cx="162.3" cy="310.8" r="1.30" fill="#555" stroke="#141414" stroke-width="0.97"/>
<circle cx="176.3" cy="407.0" r="3.00" fill="#fff" stroke="#141414" stroke-width="1.62"/>
<circle cx="176.3" cy="407.2" r="1.30" fill="#555" stroke="#141414" stroke-width="0.97"/>
<ellipse cx="110.0" cy="275.0" rx="0.90" ry="1.30" fill="none" stroke="#141414" stroke-width="0.65"/>
<ellipse cx="119.5" cy="361.0" rx="0.90" ry="1.30" fill="none" stroke="#141414" stroke-width="0.65"/>
<path d="M86.8 271 L88.8 327.5 L84.5 331.5 L84.5 341 L87.8 347.5 L88.2 359" fill="none" stroke="#141414" stroke-width="0.97" />
<path d="M94.8 243 L96.8 327.5 L100 337 L114 350 L114 362" fill="none" stroke="#141414" stroke-width="0.97" />
<path d="M80.5 257.5 L80.5 244 Q80.5 241.5 83 241.3 L91 240 Q94 240 94.5 243" fill="none" stroke="#141414" stroke-width="0.97" />
<path d="M78.0 257.5 L90.0 260.0 L89.5 271.0 L79.0 267.5 Z" fill="#fff" stroke="#141414" stroke-width="0.97" />
<ellipse cx="85.0" cy="264.5" rx="2.40" ry="1.60" fill="none" stroke="#141414" stroke-width="0.86" transform="rotate(20 85.0 264.5)"/>
<rect x="83.5" y="252.2" width="5" height="4" fill="none" stroke="#1c1c1c" stroke-width="0.7" transform="rotate(-8 86 254)"/>
<circle cx="85.2" cy="247.0" r="1.90" fill="none" stroke="#141414" stroke-width="0.76"/>
<circle cx="92.0" cy="332.0" r="1.60" fill="none" stroke="#141414" stroke-width="0.76"/>
<circle cx="88.0" cy="338.0" r="1.60" fill="none" stroke="#141414" stroke-width="0.76"/>
<ellipse cx="93.0" cy="345.0" rx="1.20" ry="2.20" fill="none" stroke="#141414" stroke-width="0.76" transform="rotate(-20 93.0 345.0)"/>
<path d="M87.5 350.0 L96.0 352.0 L96.0 361.0 L88.0 359.0 Z" fill="#fff" stroke="#141414" stroke-width="0.97" />
<ellipse cx="92.0" cy="356.0" rx="2.30" ry="1.60" fill="none" stroke="#141414" stroke-width="0.86" transform="rotate(20 92.0 356.0)"/>
<path d="M96 361 L104 364 L114 362" fill="none" stroke="#141414" stroke-width="0.86" />
<line x1="77.0" y1="294.0" x2="84.5" y2="294.0" stroke="#141414" stroke-width="0.76"/>
<path d="M96.0 254.5 L104.0 256.0 L104.5 266.5 L96.8 265.0 Z" fill="#fff" stroke="#141414" stroke-width="0.97" />
<path d="M96.0 254.5 L98.0 252.5 L105.5 254.5 L104.0 256.0" fill="none" stroke="#141414" stroke-width="0.86" />
<line x1="105.5" y1="254.5" x2="106.0" y2="264.5" stroke="#141414" stroke-width="0.86"/>
<line x1="106.0" y1="264.5" x2="104.5" y2="266.5" stroke="#141414" stroke-width="0.86"/>
<ellipse cx="100.0" cy="261.0" rx="1.60" ry="2.00" fill="none" stroke="#141414" stroke-width="0.86" transform="rotate(20 100.0 261.0)"/>
<path d="M100.5 337.0 L108.5 338.5 L109.0 349.0 L101.3 347.5 Z" fill="#fff" stroke="#141414" stroke-width="0.97" />
<path d="M100.5 337.0 L102.5 335.0 L110.0 337.0 L108.5 338.5" fill="none" stroke="#141414" stroke-width="0.86" />
<line x1="110.0" y1="337.0" x2="110.5" y2="347.0" stroke="#141414" stroke-width="0.86"/>
<line x1="110.5" y1="347.0" x2="109.0" y2="349.0" stroke="#141414" stroke-width="0.86"/>
<ellipse cx="104.5" cy="343.5" rx="1.60" ry="2.00" fill="none" stroke="#141414" stroke-width="0.86" transform="rotate(20 104.5 343.5)"/>
<line x1="104.5" y1="226.0" x2="100.0" y2="256.0" stroke="#141414" stroke-width="0.76"/>
<line x1="102.5" y1="329.5" x2="102.5" y2="337.5" stroke="#141414" stroke-width="0.76"/>
<path d="M57.3 221.4 L60.8 225.4 L62.2 224.2 L58.7 220.2 Z" fill="#fff" stroke="#141414" stroke-width="0.81" />
<ellipse cx="58.0" cy="220.8" rx="1.68" ry="2.40" fill="#fff" stroke="#141414" stroke-width="1.08" transform="rotate(48.81407483429036 58.0 220.8)"/>
<ellipse cx="58.0" cy="220.8" rx="0.72" ry="1.20" fill="#777" stroke="#141414" stroke-width="0.76" transform="rotate(48.81407483429036 58.0 220.8)"/>
<circle cx="67.5" cy="232.5" r="2.10" fill="#fff" stroke="#141414" stroke-width="0.97"/>
<circle cx="67.5" cy="232.5" r="0.95" fill="#aaa" stroke="#141414" stroke-width="0.76"/>
<circle cx="74.2" cy="238.0" r="2.10" fill="#fff" stroke="#141414" stroke-width="0.97"/>
<circle cx="74.2" cy="238.0" r="0.95" fill="#aaa" stroke="#141414" stroke-width="0.76"/>
<line x1="62.0" y1="225.5" x2="85.0" y2="246.5" stroke="#333" stroke-width="0.70" stroke-dasharray="1.1 1.5" stroke-linecap="butt"/>
<line x1="70.0" y1="218.5" x2="61.0" y2="222.5" stroke="#141414" stroke-width="0.76"/>
<line x1="56.0" y1="240.0" x2="66.0" y2="233.5" stroke="#141414" stroke-width="0.76"/>
<line x1="64.0" y1="246.5" x2="73.5" y2="239.0" stroke="#141414" stroke-width="0.76"/>
<circle cx="96.0" cy="239.5" r="2.60" fill="#fff" stroke="#141414" stroke-width="0.97"/>
<circle cx="96.0" cy="239.5" r="1.17" fill="#aaa" stroke="#141414" stroke-width="0.76"/>
<line x1="92.5" y1="231.0" x2="95.5" y2="237.5" stroke="#141414" stroke-width="0.76"/>
<path d="M60.2 312.7 L63.9 316.2 L65.1 314.8 L61.4 311.3 Z" fill="#fff" stroke="#141414" stroke-width="0.81" />
<ellipse cx="60.8" cy="312.0" rx="1.68" ry="2.40" fill="#fff" stroke="#141414" stroke-width="1.08" transform="rotate(43.408859728805396 60.8 312.0)"/>
<ellipse cx="60.8" cy="312.0" rx="0.72" ry="1.20" fill="#777" stroke="#141414" stroke-width="0.76" transform="rotate(43.408859728805396 60.8 312.0)"/>
<circle cx="73.8" cy="325.0" r="2.30" fill="#fff" stroke="#141414" stroke-width="0.97"/>
<circle cx="73.8" cy="325.0" r="1.03" fill="#aaa" stroke="#141414" stroke-width="0.76"/>
<line x1="65.0" y1="316.0" x2="81.5" y2="332.5" stroke="#333" stroke-width="0.70" stroke-dasharray="1.1 1.5" stroke-linecap="butt"/>
<line x1="51.5" y1="320.0" x2="60.0" y2="314.0" stroke="#141414" stroke-width="0.76"/>
<line x1="64.0" y1="332.5" x2="72.5" y2="326.0" stroke="#141414" stroke-width="0.76"/>
<circle cx="104.0" cy="357.5" r="2.50" fill="#fff" stroke="#141414" stroke-width="0.97"/>
<circle cx="104.0" cy="357.5" r="1.12" fill="#aaa" stroke="#141414" stroke-width="0.76"/>
<circle cx="108.2" cy="361.0" r="2.30" fill="#fff" stroke="#141414" stroke-width="0.97"/>
<circle cx="108.2" cy="361.0" r="1.03" fill="#aaa" stroke="#141414" stroke-width="0.76"/>
<line x1="96.0" y1="367.5" x2="103.0" y2="359.0" stroke="#141414" stroke-width="0.76"/>
<line x1="95.0" y1="374.5" x2="107.5" y2="362.5" stroke="#141414" stroke-width="0.76"/>
<path d="M97.9 278.0 L104.4 275.5 L103.6 273.5 L97.1 276.0 Z" fill="#fff" stroke="#141414" stroke-width="0.81" />
<ellipse cx="97.5" cy="277.0" rx="1.96" ry="2.80" fill="#fff" stroke="#141414" stroke-width="1.08" transform="rotate(-21.037511025421818 97.5 277.0)"/>
<ellipse cx="97.5" cy="277.0" rx="0.84" ry="1.40" fill="#777" stroke="#141414" stroke-width="0.76" transform="rotate(-21.037511025421818 97.5 277.0)"/>
<line x1="104.5" y1="274.5" x2="110.0" y2="273.8" stroke="#333" stroke-width="0.70" stroke-dasharray="1.1 1.5" stroke-linecap="butt"/>
<path d="M103.1 372.1 L110.6 368.1 L109.4 365.9 L101.9 369.9 Z" fill="#fff" stroke="#141414" stroke-width="0.81" />
<ellipse cx="102.5" cy="371.0" rx="2.10" ry="3.00" fill="#fff" stroke="#141414" stroke-width="1.08" transform="rotate(-28.072486935852957 102.5 371.0)"/>
<ellipse cx="102.5" cy="371.0" rx="0.90" ry="1.50" fill="#777" stroke="#141414" stroke-width="0.76" transform="rotate(-28.072486935852957 102.5 371.0)"/>
<line x1="110.5" y1="366.5" x2="120.0" y2="361.5" stroke="#333" stroke-width="0.70" stroke-dasharray="1.1 1.5" stroke-linecap="butt"/>
<line x1="110.0" y1="382.0" x2="104.0" y2="373.5" stroke="#141414" stroke-width="0.76"/>
<line x1="202.5" y1="400.0" x2="191.0" y2="408.0" stroke="#141414" stroke-width="0.76"/>
<path d="M169 279 Q168.8 274.5 171.5 271.8 Q175 269.3 179 270.6 Q181.3 272 180.9 274.5 L182.3 284 L185.2 297 L186.6 305.7 L184.8 315 Q183 317.5 181.5 316.3 L180.4 306.5 L176 304.5 L174.3 294.8 L172.4 293.4 L171.4 286 Z" fill="#fff" stroke="#141414" stroke-width="1.03" />
<path d="M180.4 277.2 L174.3 285.8 L171.4 286 M178 281 L179.5 290.5 L175.2 293.4" fill="none" stroke="#141414" stroke-width="0.81" />
<ellipse cx="173.3" cy="277.7" rx="1.20" ry="2.10" fill="none" stroke="#141414" stroke-width="0.92" transform="rotate(15 173.3 277.7)"/>
<path d="M174.3 294.8 L184.7 296.7 L186.6 303.8 L176.2 304.8 Z" fill="#fff" stroke="#141414" stroke-width="0.97" />
<ellipse cx="179.7" cy="300.3" rx="2.90" ry="1.90" fill="none" stroke="#141414" stroke-width="0.92" transform="rotate(15 179.7 300.3)"/>
<ellipse cx="179.7" cy="300.3" rx="1.30" ry="0.80" fill="none" stroke="#141414" stroke-width="0.65" transform="rotate(15 179.7 300.3)"/>
<ellipse cx="183.3" cy="311.4" rx="1.10" ry="1.90" fill="none" stroke="#141414" stroke-width="0.81" transform="rotate(15 183.3 311.4)"/>
<line x1="185.7" y1="264.0" x2="180.4" y2="271.5" stroke="#141414" stroke-width="0.76"/>
<path d="M190.4 283.9 L199.0 284.4 L199.4 296.2 L191.8 295.3 Z" fill="#fff" stroke="#141414" stroke-width="1.03" />
<path d="M190.4 283.9 L191.2 282.8 L199.8 283.3 L199 284.4 M199.8 283.3 L201 292.5 L202 293.3 M199.4 296.2 L201 292.5" fill="none" stroke="#141414" stroke-width="0.86" />
<circle cx="194.7" cy="291.0" r="1.30" fill="none" stroke="#141414" stroke-width="0.86"/>
<line x1="199.4" y1="275.5" x2="193.8" y2="283.8" stroke="#141414" stroke-width="0.76"/>
<rect x="206" y="300.4" width="6" height="3" fill="#999" stroke="#222" stroke-width="0.7"/>
<circle cx="214.2" cy="301.9" r="2.70" fill="#fff" stroke="#141414" stroke-width="1.30"/>
<circle cx="214.6" cy="301.9" r="1.20" fill="#bbb" stroke="#141414" stroke-width="0.76"/>
<line x1="185.5" y1="301.2" x2="205.6" y2="301.6" stroke="#333" stroke-width="0.70" stroke-dasharray="1.1 1.5" stroke-linecap="butt"/>
<line x1="215.1" y1="292.6" x2="209.6" y2="299.5" stroke="#141414" stroke-width="0.76"/>
</g>
<g id="radiator-left">
<path d="M398.5 146.5 Q398 140 403 137.5 L405.5 135.5 Q413 132.5 424 135 L427.5 137.5 Q432.5 141.5 432.5 148 L432.8 153.5 Q426 160 414 159.5 Q402.5 158 398.6 152 Z" fill="#fff" stroke="#141414" stroke-width="0.97" />
<path d="M399 141.5 Q396.3 141 396.5 144.5 Q396.8 147.5 399 148.5 M431 150 Q434 150.5 433.8 154 Q433.3 156.8 431 157.5" fill="none" stroke="#141414" stroke-width="0.97" />
<ellipse cx="415.3" cy="145.0" rx="14.20" ry="8.20" fill="none" stroke="#141414" stroke-width="0.86" transform="rotate(6 415.3 145.0)"/>
<ellipse cx="415.3" cy="145.3" rx="12.60" ry="7.00" fill="none" stroke="#555" stroke-width="0.65" transform="rotate(6 415.3 145.3)"/>
<path d="M398.6 149 Q404 156 415 156.5 Q427 156.5 432.7 150.5" fill="none" stroke="#141414" stroke-width="0.76" />
<path d="M406.5 158 L406.5 162 Q414 166 422.5 162.5 L422.5 159" fill="none" stroke="#141414" stroke-width="0.97" />
<line x1="415.0" y1="166.0" x2="415.0" y2="196.0" stroke="#141414" stroke-width="0.76"/>
<line x1="433.0" y1="121.5" x2="426.0" y2="137.5" stroke="#141414" stroke-width="0.76"/>
<line x1="364.0" y1="180.5" x2="376.0" y2="202.0" stroke="#141414" stroke-width="0.76"/>
<path d="M378.5 217.0V342.8M383.9 219.7V345.3M389.3 222.4V347.9M394.7 225.1V350.4M400.1 227.8V352.9M405.5 230.5V355.5M410.9 233.2V358.0M416.3 235.9V360.6M421.7 238.6V363.1M427.1 241.3V365.6M432.5 244.0V368.2M437.9 246.7V370.7" fill="none" stroke="#3a3a3a" stroke-width="1.03" />
<path d="M368.3 208 L368.3 340" fill="none" stroke="#141414" stroke-width="0.97" />
<path d="M372.6 213.5 L372.6 342 M374.3 214.5 L374.3 343" fill="none" stroke="#333" stroke-width="0.76" />
<path d="M371.5 213 L440 247 M372 210.5 L423 236" fill="none" stroke="#141414" stroke-width="0.86" />
<path d="M369.3 340.5 L440 374 M371.5 343.8 L439 376" fill="none" stroke="#141414" stroke-width="0.97" />
<path d="M440.5 240 L440.5 377 M446.5 236 L447 372 M451.5 226 L452.3 368" fill="none" stroke="#141414" stroke-width="0.97" />
<path d="M440.5 377 L447 372 L452.3 368" fill="none" stroke="#141414" stroke-width="0.86" />
<path d="M444 250 L444.5 366" fill="none" stroke="#555" stroke-width="0.54" />
<path d="M372 212 L371.8 206.5 L374.5 200 L382.5 194 Q386 192.5 392 194.3 L404 196.5 M427 199.5 L432 201 L439.5 206 Q442.5 209 442.8 214 L443 224" fill="none" stroke="#141414" stroke-width="0.97" />
<path d="M374.5 205.5 Q376 203 379 204 L398 212 Q402 213.5 405 211 L409 208" fill="none" stroke="#141414" stroke-width="0.76" />
<path d="M386 206.5 L397 197.5 M391 209 L401 200.5" fill="none" stroke="#555" stroke-width="0.59" />
<path d="M423 236 Q428 241 434 239.5 L443 234" fill="none" stroke="#141414" stroke-width="0.97" />
<path d="M375.5 198.5 L378 195.8 L384 192.8" fill="none" stroke="#141414" stroke-width="1.30" />
<ellipse cx="415.0" cy="195.5" rx="14.60" ry="9.60" fill="#fff" stroke="#141414" stroke-width="0.97"/>
<ellipse cx="415.0" cy="196.0" rx="12.80" ry="8.20" fill="none" stroke="#141414" stroke-width="0.76"/>
<ellipse cx="415.0" cy="197.5" rx="10.60" ry="6.40" fill="none" stroke="#141414" stroke-width="0.76"/>
<ellipse cx="415.0" cy="201.0" rx="8.00" ry="4.40" fill="none" stroke="#141414" stroke-width="0.97"/>
<ellipse cx="415.0" cy="201.5" rx="5.50" ry="2.80" fill="none" stroke="#141414" stroke-width="0.76"/>
<path d="M425 189 Q429.5 187.5 431.5 190.5 Q433 194 429.5 197" fill="none" stroke="#141414" stroke-width="0.97" />
<path d="M414.8 204 L415.3 208 L417.5 219 M418 204 L418.6 207.5 L420.5 218" fill="none" stroke="#141414" stroke-width="1.19" />
<path d="M411.5 218 L412 226 L416 228 M416 219 L420.5 221 L420.5 229" fill="none" stroke="#141414" stroke-width="1.08" />
<path d="M424 231 L425.5 222 L433 218.5 Q440 216.5 443 222 Q445.5 229 440 233 L432 238.5 Q426 240 423.5 236.5" fill="#fff" stroke="#141414" stroke-width="0.97" />
<path d="M426 230 Q431.5 232.5 437 228.5 L438.5 230.5 Q432 235.5 425.8 232.5 Z" fill="none" stroke="#141414" stroke-width="0.86" />
<ellipse cx="437.5" cy="223.5" rx="2.30" ry="3.60" fill="none" stroke="#141414" stroke-width="1.19" transform="rotate(-25 437.5 223.5)"/>
<ellipse cx="437.5" cy="223.5" rx="0.90" ry="1.60" fill="none" stroke="#141414" stroke-width="0.65" transform="rotate(-25 437.5 223.5)"/>
<path d="M443.8 211.6 L458 215.3 M444.4 222.3 L457.3 225.8" fill="none" stroke="#141414" stroke-width="1.08" />
<ellipse cx="459.3" cy="220.6" rx="3.40" ry="5.60" fill="#fff" stroke="#141414" stroke-width="1.30" transform="rotate(-10 459.3 220.6)"/>
<ellipse cx="459.6" cy="220.7" rx="2.00" ry="4.00" fill="none" stroke="#141414" stroke-width="0.76" transform="rotate(-10 459.6 220.7)"/>
<path d="M369.3 207.5 L366 205 Q363.5 203 360 203.2 L352.5 203.8 Q348 205 348.3 210 L349.5 215 L354 228.5 Q355 231 358 231.5 L364.5 233 Q367.5 234 367.5 237 L367.5 300" fill="none" stroke="#141414" stroke-width="0.97" />
<ellipse cx="356.8" cy="209.8" rx="3.50" ry="2.30" fill="none" stroke="#141414" stroke-width="0.86" transform="rotate(5 356.8 209.8)"/>
<ellipse cx="360.6" cy="226.5" rx="3.50" ry="2.30" fill="none" stroke="#141414" stroke-width="0.86" transform="rotate(5 360.6 226.5)"/>
<path d="M367.5 300 L367.5 316.5 L358 319 Q351 321 349.5 327 Q348.5 333.5 355 335.5 L369.3 339.5" fill="none" stroke="#141414" stroke-width="0.97" />
<ellipse cx="357.8" cy="329.0" rx="3.50" ry="2.40" fill="none" stroke="#141414" stroke-width="0.86" transform="rotate(5 357.8 329.0)"/>
<path d="M448.3 227.5 Q447.5 232 444.5 235.5 Q441 239.5 440.3 243 L439.5 247 Q437 255 431 263 L423.5 272 Q419.5 277.5 421.5 282 Q424 286.5 430.5 285 L437 282.5 Q441 281.5 440.8 287 L439.3 297 Q438 303.5 435 308 Q432 313 434.5 317 L439.5 324" fill="none" stroke="#1c1c1c" stroke-width="4.21" />
<path d="M448.3 227.5 Q447.5 232 444.5 235.5 Q441 239.5 440.3 243 L439.5 247 Q437 255 431 263 L423.5 272 Q419.5 277.5 421.5 282 Q424 286.5 430.5 285 L437 282.5 Q441 281.5 440.8 287 L439.3 297 Q438 303.5 435 308 Q432 313 434.5 317 L439.5 324" fill="none" stroke="#fff" stroke-width="2.27" />
<ellipse cx="425.8" cy="276.8" rx="5.20" ry="4.40" fill="#fff" stroke="#141414" stroke-width="1.08" transform="rotate(-35 425.8 276.8)"/>
<ellipse cx="425.8" cy="276.8" rx="3.40" ry="2.70" fill="none" stroke="#141414" stroke-width="0.86" transform="rotate(-35 425.8 276.8)"/>
<ellipse cx="442.8" cy="244.5" rx="0.70" ry="1.50" fill="none" stroke="#141414" stroke-width="0.65"/>
<ellipse cx="444.5" cy="357.0" rx="0.60" ry="2.20" fill="none" stroke="#141414" stroke-width="0.65"/>
<path d="M452 330 L461 338 L463 332.5 L472.5 334 L472.5 341 L468 349.5 L461.5 351.5 L452.5 366" fill="#fff" stroke="#141414" stroke-width="0.97" />
<ellipse cx="466.2" cy="342.2" rx="4.20" ry="5.20" fill="none" stroke="#141414" stroke-width="0.97" transform="rotate(25 466.2 342.2)"/>
<ellipse cx="466.2" cy="342.2" rx="2.60" ry="3.50" fill="none" stroke="#141414" stroke-width="0.76" transform="rotate(25 466.2 342.2)"/>
<path d="M440.5 377 L443 371.5 L447.5 369 L452.3 368" fill="none" stroke="#141414" stroke-width="0.86" />
<path d="M369.5 341 L371 347 Q372 350 376 352.5 L390 360 Q396 363.5 400 370 Q405 377 414 381 L421 384 L421.3 388.5 Q427.5 392.5 434.5 389 L434.8 386 L438 385.5 Q442 384 442.5 379" fill="none" stroke="#141414" stroke-width="0.97" />
<path d="M421 384 Q428 387.5 434.8 386" fill="none" stroke="#141414" stroke-width="0.76" />
<path d="M314.5 270.5 L337.1 281.3 L338.9 277.7 L316.2 266.9 Z" fill="#fff" stroke="#141414" stroke-width="0.97" />
<path d="M318.0 272.2L320.3 268.9M319.4 272.9L321.8 269.5M320.9 273.5L323.2 270.2M322.3 274.2L324.7 270.9M323.8 274.9L326.1 271.6M325.2 275.6L327.6 272.3M326.6 276.3L329.0 273.0M328.1 277.0L330.4 273.7M329.5 277.7L331.9 274.4M331.0 278.4L333.3 275.1M332.4 279.1L334.8 275.7M333.9 279.7L336.2 276.4M335.3 280.4L337.7 277.1M336.8 281.1L339.1 277.8" fill="none" stroke="#141414" stroke-width="0.81" />
<ellipse cx="314.5" cy="268.3" rx="2.64" ry="6.60" fill="#fff" stroke="#141414" stroke-width="1.03" transform="rotate(25.505773800793392 314.5 268.3)"/>
<ellipse cx="313.0" cy="267.6" rx="2.64" ry="6.47" fill="#fff" stroke="#141414" stroke-width="0.97" transform="rotate(25.505773800793392 313.0 267.6)"/>
<ellipse cx="310.3" cy="266.3" rx="4.75" ry="5.28" fill="#fff" stroke="#141414" stroke-width="1.03" transform="rotate(25.505773800793392 310.3 266.3)"/>
<path d="M309.5 270.3 L312.9 263.1" fill="none" stroke="#141414" stroke-width="0.65" />
<line x1="304.0" y1="291.5" x2="311.0" y2="276.0" stroke="#141414" stroke-width="0.76"/>
<path d="M339.0 280.3 L372.0 296.4" fill="none" stroke="#222" stroke-width="0.7" stroke-dasharray="26 2.5 2 2.5" stroke-linecap="butt"/>
<path d="M372 296.4 L466 342.5" fill="none" stroke="#141414" stroke-width="0.86" stroke-dasharray="2.4 2.2" stroke-linecap="butt"/>
<path d="M425 239.5 L284 321 L284 327.5" fill="none" stroke="#141414" stroke-width="0.81" />
<path d="M390 320.5 L415 306" fill="none" stroke="#141414" stroke-width="0.86" stroke-dasharray="2.4 2.2" stroke-linecap="butt"/>
<ellipse cx="286.0" cy="331.3" rx="2.80" ry="1.80" fill="none" stroke="#141414" stroke-width="0.86"/>
<ellipse cx="277.8" cy="331.2" rx="1.50" ry="1.50" fill="none" stroke="#141414" stroke-width="0.86"/>
<line x1="279.0" y1="331.5" x2="283.5" y2="331.5" stroke="#141414" stroke-width="0.76"/>
<line x1="283.5" y1="334.0" x2="286.0" y2="336.0" stroke="#141414" stroke-width="0.76"/>
<line x1="267.5" y1="346.0" x2="277.0" y2="332.8" stroke="#141414" stroke-width="0.76"/>
<path d="M286.8 339.5 Q286.3 357 289.8 370 Q293 381 300 391 Q304 396.5 305 400 L305.3 406.5" fill="none" stroke="#141414" stroke-width="7.6" stroke-linecap="butt"/>
<path d="M286.8 339.5 Q286.3 357 289.8 370 Q293 381 300 391 Q304 396.5 305 400 L305.3 406.5" fill="none" stroke="#fff" stroke-width="5.6" stroke-linecap="butt"/>
<path d="M305.8 409.5 Q306.3 421 310 430 L316.5 442 Q322 454 324 465 L327.5 487" fill="none" stroke="#141414" stroke-width="7.6" stroke-linecap="butt"/>
<path d="M305.8 409.5 Q306.3 421 310 430 L316.5 442 Q322 454 324 465 L327.5 487" fill="none" stroke="#fff" stroke-width="5.6" stroke-linecap="butt"/>
<path d="M283 339.5 Q286.8 337.8 290.6 339.5 M301.5 406.5 Q305.3 408 309.1 406.5 M302 409.5 Q305.8 408 309.6 409.5 M323.7 487.5 Q327.5 489.5 331.2 486.5" fill="none" stroke="#141414" stroke-width="0.86" />
<line x1="284.0" y1="395.0" x2="292.5" y2="384.0" stroke="#141414" stroke-width="0.76"/>
<path d="M467.0 286.0 L476.0 280.0 L481.0 281.0 L481.0 305.5 L471.5 311.5 L467.0 310.5 Z" fill="#fff" stroke="#141414" stroke-width="0.97" />
<path d="M476 280 L476.5 307.5 M478.5 280.5 L479 306.5 M467 310.5 L476.5 307.5" fill="none" stroke="#141414" stroke-width="0.76" />
<line x1="481.0" y1="291.0" x2="497.5" y2="286.0" stroke="#141414" stroke-width="0.76"/>
<path d="M452.5 285.5 L467 296" fill="none" stroke="#141414" stroke-width="0.76" />
<path d="M463.0 315.0 L474.5 312.5 L475.0 322.0 L463.5 325.5 Z" fill="#fff" stroke="#141414" stroke-width="0.97" />
<path d="M466.5 314.3 L466.8 319 Q468.5 321 470.5 318.5 L470.3 313.4" fill="none" stroke="#141414" stroke-width="0.86" />
<line x1="433.5" y1="310.5" x2="463.0" y2="316.5" stroke="#333" stroke-width="0.70" stroke-dasharray="1.1 1.5" stroke-linecap="butt"/>
<ellipse cx="432.3" cy="311.0" rx="1.00" ry="1.60" fill="none" stroke="#141414" stroke-width="0.76"/>
<line x1="475.0" y1="318.0" x2="481.0" y2="317.5" stroke="#141414" stroke-width="0.76"/>
</g>
<g id="radiator-right">
<path d="M599.5 285.8 L606 287.2 L616 294.5 M598.5 293 L606.5 298.5" fill="none" stroke="#141414" stroke-width="0.97" />
<ellipse cx="599.3" cy="289.4" rx="2.30" ry="3.80" fill="#fff" stroke="#141414" stroke-width="0.97" transform="rotate(-15 599.3 289.4)"/>
<path d="M598.8 320 L598.8 306 Q599.2 301.5 603 299.8 L620 295.8 Q624.5 295.2 628 296.8 L650.5 308.5 Q654 311 656 315.5 L659.5 321 Q663 324.5 668 327 Q672.3 329.5 672.5 334 L672.3 336.5 L661 344 Q657.5 345.8 654 344.3" fill="none" stroke="#141414" stroke-width="0.97" />
<path d="M600.5 307 L633 322.5 Q639 326 642 331 L648.5 339.5 Q652 342.5 657 342" fill="none" stroke="#141414" stroke-width="0.76" />
<path d="M638.8 320.6 L648.4 312.6 M650 335 L658.8 326.2" fill="none" stroke="#141414" stroke-width="0.76" />
<path d="M602.8 323.3V449.3M608.1 325.7V451.6M613.5 328.1V454.0M618.8 330.5V456.4M624.2 332.8V458.8M629.5 335.2V461.1M634.9 337.6V463.5M640.2 340.0V465.9M645.6 342.4V468.3M650.9 344.8V470.6M656.3 347.1V473.0" fill="none" stroke="#3a3a3a" stroke-width="1.03" />
<path d="M595.8 314.5 L595.2 446 M598.8 320 L598.3 447.5" fill="none" stroke="#141414" stroke-width="0.97" />
<path d="M598.8 320 L656.4 345.4 M598.8 322.6 L655 347.5" fill="none" stroke="#141414" stroke-width="0.86" />
<path d="M595 446.3 L660 475.2 M596 449.5 L659 477.8" fill="none" stroke="#141414" stroke-width="0.97" />
<path d="M659.5 347 L660.5 478 M676.3 334.5 L677.5 473 M661 344 L672.5 336.5 L676.3 334.5" fill="none" stroke="#141414" stroke-width="0.97" />
<path d="M665.5 345 L667 475 M672 340 L673 470" fill="none" stroke="#444" stroke-width="0.65" />
<path d="M660.5 478 L664 472.5 L669.5 470.5 L677.5 473" fill="none" stroke="#141414" stroke-width="0.86" />
<path d="M660 349 L662.5 346 L663.5 352 L664 378.5 L662.5 381 L661 378" fill="none" stroke="#141414" stroke-width="0.86" />
<ellipse cx="668.3" cy="352.5" rx="0.60" ry="1.60" fill="none" stroke="#141414" stroke-width="0.65"/>
<ellipse cx="669.3" cy="443.5" rx="0.60" ry="1.80" fill="none" stroke="#141414" stroke-width="0.65"/>
<path d="M596.5 316 L594 313.6 L593.8 329.5 Q593 333.5 589.5 337 L581.5 346.5 Q579.3 349.5 579.5 353 L579.6 359.5 Q580.5 363.5 585 363.8 L592.5 361.5 L594 375 L587.8 383.5 L587.2 392 L594.5 395.5" fill="none" stroke="#141414" stroke-width="0.97" />
<path d="M596 330.5 Q595.5 335 592 338.5 L585 346.5" fill="none" stroke="#141414" stroke-width="0.76" />
<ellipse cx="585.0" cy="354.4" rx="3.90" ry="5.00" fill="none" stroke="#141414" stroke-width="0.97" transform="rotate(25 585.0 354.4)"/>
<ellipse cx="585.0" cy="354.4" rx="2.40" ry="3.40" fill="none" stroke="#141414" stroke-width="0.76" transform="rotate(25 585.0 354.4)"/>
<ellipse cx="591.2" cy="387.6" rx="0.90" ry="1.50" fill="none" stroke="#141414" stroke-width="0.76"/>
<path d="M577.3 368 L593.5 375" fill="none" stroke="#141414" stroke-width="0.76" />
<path d="M596 449.5 L599.5 454 L600 464.5 Q602 469.5 607.5 472.5 L619 480 Q627 484 635 485.2 L642.5 487.7 Q647 487 650 484 L659.5 485 L661.5 488" fill="none" stroke="#141414" stroke-width="0.97" />
<path d="M599.8 454.5 L658.5 481" fill="none" stroke="#141414" stroke-width="0.76" />
<path d="M659.5 485 L660.5 478" fill="none" stroke="#141414" stroke-width="0.76" />
<line x1="587.6" y1="356.6" x2="687.5" y2="405.0" stroke="#141414" stroke-width="0.81"/>
<path d="M713.6 414.5 L689.1 403.2 L687.5 406.8 L711.9 418.1 Z" fill="#fff" stroke="#141414" stroke-width="0.97" />
<path d="M710.1 412.9L707.7 416.2M708.6 412.2L706.3 415.6M707.2 411.6L704.8 414.9M705.7 410.9L703.4 414.2M704.3 410.2L701.9 413.5M702.8 409.5L700.5 412.9M701.4 408.9L699.0 412.2M699.9 408.2L697.6 411.5M698.5 407.5L696.1 410.8M697.0 406.8L694.7 410.2M695.6 406.2L693.2 409.5M694.1 405.5L691.8 408.8M692.7 404.8L690.3 408.1M691.2 404.1L688.9 407.5M689.8 403.5L687.4 406.8" fill="none" stroke="#141414" stroke-width="0.81" />
<ellipse cx="713.6" cy="416.7" rx="2.64" ry="6.60" fill="#fff" stroke="#141414" stroke-width="1.03" transform="rotate(-155.09523119190482 713.6 416.7)"/>
<ellipse cx="715.1" cy="417.4" rx="2.64" ry="6.47" fill="#fff" stroke="#141414" stroke-width="0.97" transform="rotate(-155.09523119190482 715.1 417.4)"/>
<ellipse cx="717.8" cy="418.7" rx="4.75" ry="5.28" fill="#fff" stroke="#141414" stroke-width="1.03" transform="rotate(-155.09523119190482 717.8 418.7)"/>
<path d="M718.6 414.7 L715.2 421.9" fill="none" stroke="#141414" stroke-width="0.65" />
<line x1="709.0" y1="443.0" x2="712.5" y2="425.5" stroke="#141414" stroke-width="0.76"/>
<line x1="664.5" y1="293.0" x2="655.8" y2="313.0" stroke="#141414" stroke-width="0.76"/>
</g>
<g id="hoses-fittings">
<path d="M525 62 L500 75 L471 152" fill="none" stroke="#141414" stroke-width="0.86" />
<path d="M469.5 156 L452.3 206.5 Q451 209.5 444.5 211.3" fill="none" stroke="#141414" stroke-width="0.86" />
<ellipse cx="516.1" cy="88.9" rx="9.20" ry="6.20" fill="#fff" stroke="#141414" stroke-width="1.03"/>
<path d="M507.6 84.3 L506.9 88.9 L525.3 88.9 L526.0 84.3 Z" fill="#fff" stroke="none"/>
<line x1="507.6" y1="84.3" x2="506.9" y2="88.9" stroke="#141414" stroke-width="1.03"/>
<line x1="526.0" y1="84.3" x2="525.3" y2="88.9" stroke="#141414" stroke-width="1.03"/>
<ellipse cx="516.8" cy="84.3" rx="9.20" ry="6.20" fill="#fff" stroke="#141414" stroke-width="1.03"/>
<path d="M508.9 86.5 Q516.8 80.9 524.7 86.5" fill="none" stroke="#222" stroke-width="0.8"/>
<rect x="500.5" y="88.5" width="12" height="4.6" rx="1.6" fill="#fff" stroke="#141414" stroke-width="0.95" transform="rotate(30 506.5 90.8)"/>
<line x1="505.1" y1="88.5" x2="505.1" y2="93.1" stroke="#141414" stroke-width="0.8" transform="rotate(30 506.5 90.8)"/>
<line x1="525.0" y1="62.0" x2="516.3" y2="86.5" stroke="#141414" stroke-width="0.86"/>
<line x1="545.0" y1="80.0" x2="526.0" y2="83.0" stroke="#141414" stroke-width="0.76"/>
<path d="M499.3 106 L493.5 125 Q493 131 495.5 135 L514.5 159.5 Q518 164 524 167 L542.5 175.5 L604.5 199 Q610.5 200.5 613.5 194.5 Q616 189 614.5 185.5 L551 157.5 L533 150.5 Q529.5 148.5 527 145 L515 128 Q512 124.5 512.8 120 L516.3 108.5" fill="#fff" stroke="#141414" stroke-width="0.97" />
<ellipse cx="507.8" cy="107.3" rx="8.60" ry="6.60" fill="#fff" stroke="#141414" stroke-width="0.97" transform="rotate(10 507.8 107.3)"/>
<ellipse cx="508.0" cy="107.5" rx="6.60" ry="4.80" fill="none" stroke="#141414" stroke-width="0.76" transform="rotate(10 508.0 107.5)"/>
<path d="M493.8 127 Q497 134.5 505 134 Q511.5 133 514.5 127.5 M494.8 130 Q498.5 137 506 136.3 Q512.5 135 515.8 129.5" fill="none" stroke="#141414" stroke-width="0.76" />
<path d="M551 157.5 Q552.5 166 542.5 175.5" fill="none" stroke="#141414" stroke-width="0.86" />
<line x1="542.5" y1="131.0" x2="523.0" y2="135.0" stroke="#141414" stroke-width="0.76"/>
<ellipse cx="628.5" cy="200.5" rx="7.50" ry="11.20" fill="none" stroke="#141414" stroke-width="0.97" transform="rotate(25 628.5 200.5)"/>
<ellipse cx="630.3" cy="199.5" rx="7.30" ry="11.00" fill="none" stroke="#141414" stroke-width="0.97" transform="rotate(25 630.3 199.5)"/>
<ellipse cx="632.0" cy="198.5" rx="5.80" ry="9.40" fill="none" stroke="#141414" stroke-width="0.65" transform="rotate(25 632.0 198.5)"/>
<path d="M626.5 186 L631 183.5 L637 187.5 L635.5 191.5 L629 191 Z" fill="#fff" stroke="#141414" stroke-width="0.86" />
<circle cx="628.0" cy="185.5" r="1.30" fill="none" stroke="#141414" stroke-width="0.76"/>
<line x1="636.0" y1="169.5" x2="632.5" y2="185.0" stroke="#141414" stroke-width="0.76"/>
<path d="M649 200.3 L673.5 212 L675.5 208 Q680 204.5 686 206.5 Q689.5 208.5 689.5 212.5 L693.5 221.5 M643.5 219 L686 238.5" fill="none" stroke="#141414" stroke-width="1.13" />
<ellipse cx="646.3" cy="209.6" rx="5.80" ry="9.80" fill="#fff" stroke="#141414" stroke-width="1.24" transform="rotate(-22 646.3 209.6)"/>
<ellipse cx="646.8" cy="209.8" rx="4.20" ry="8.00" fill="none" stroke="#141414" stroke-width="0.86" transform="rotate(-22 646.8 209.8)"/>
<path d="M651 202 Q655 208.5 653 217.5 Q651.5 221.5 648.5 222.5 M653.5 203.5 Q657.5 210 655.5 218.5 Q654.5 222 652 223.3" fill="none" stroke="#141414" stroke-width="0.81" />
<ellipse cx="682.6" cy="209.6" rx="5.60" ry="3.80" fill="#fff" stroke="#141414" stroke-width="1.08" transform="rotate(-20 682.6 209.6)"/>
<ellipse cx="682.8" cy="209.8" rx="3.40" ry="2.00" fill="none" stroke="#141414" stroke-width="0.76" transform="rotate(-20 682.8 209.8)"/>
<path d="M673.5 212 L672.5 222.5 M684.5 214.5 L680 225" fill="none" stroke="#141414" stroke-width="0.92" />
<path d="M688 238.5 L687.5 232 Q689.5 224.5 696 220 L701 218.5 Q707 217.5 708.5 221 Q709.5 224.5 706 227.5" fill="#fff" stroke="#141414" stroke-width="1.19" />
<ellipse cx="705.0" cy="221.5" rx="1.90" ry="1.50" fill="none" stroke="#141414" stroke-width="0.86"/>
<path d="M688 238.5 L690.5 240.5 Q690 233 693.5 228 Q697 223 702 222" fill="none" stroke="#141414" stroke-width="0.97" />
<path d="M690.5 240.5 L696.5 245.5 M706.5 227 L711 231.5" fill="none" stroke="#141414" stroke-width="1.08" />
<path d="M692.3 242 Q692.3 235 695.8 230.5 M694 243.5 Q694 237 697.5 232.3 M695.7 245 Q695.7 238.5 699.2 233.8" fill="none" stroke="#141414" stroke-width="0.76" />
<ellipse cx="703.6" cy="238.0" rx="5.40" ry="8.40" fill="#fff" stroke="#141414" stroke-width="1.19" transform="rotate(25 703.6 238.0)"/>
<ellipse cx="704.0" cy="238.2" rx="4.00" ry="6.70" fill="none" stroke="#141414" stroke-width="0.86" transform="rotate(25 704.0 238.2)"/>
<line x1="664.0" y1="247.5" x2="667.0" y2="230.5" stroke="#141414" stroke-width="0.76"/>
<path d="M677.3 185.2 L687.4 190.8 L689.0 187.8 L679.0 182.3 Z" fill="#fff" stroke="#141414" stroke-width="0.97" />
<path d="M680.5 187.0L682.7 184.3M681.9 187.7L684.1 185.1M683.3 188.5L685.5 185.9M684.7 189.3L686.9 186.7M686.1 190.1L688.3 187.4" fill="none" stroke="#141414" stroke-width="0.81" />
<ellipse cx="677.4" cy="183.3" rx="2.40" ry="6.00" fill="#fff" stroke="#141414" stroke-width="1.03" transform="rotate(28.94392340060152 677.4 183.3)"/>
<ellipse cx="676.1" cy="182.6" rx="2.40" ry="5.88" fill="#fff" stroke="#141414" stroke-width="0.97" transform="rotate(28.94392340060152 676.1 182.6)"/>
<ellipse cx="673.7" cy="181.3" rx="4.32" ry="4.80" fill="#fff" stroke="#141414" stroke-width="1.03" transform="rotate(28.94392340060152 673.7 181.3)"/>
<path d="M672.7 184.9 L676.2 178.6" fill="none" stroke="#141414" stroke-width="0.65" />
<path d="M689 190 L694.5 195.5 L694.5 215" fill="none" stroke="#141414" stroke-width="0.76" stroke-dasharray="3 1.5"/>
<line x1="686.0" y1="163.0" x2="679.0" y2="178.5" stroke="#141414" stroke-width="0.76"/>
<ellipse cx="714.5" cy="247.0" rx="6.30" ry="9.20" fill="none" stroke="#141414" stroke-width="1.51" transform="rotate(28 714.5 247.0)"/>
<line x1="709.0" y1="272.5" x2="711.5" y2="256.5" stroke="#141414" stroke-width="0.76"/>
<line x1="464.0" y1="221.5" x2="480.0" y2="227.5" stroke="#141414" stroke-width="0.76"/>
<ellipse cx="484.0" cy="230.6" rx="4.60" ry="7.60" fill="none" stroke="#141414" stroke-width="0.97" transform="rotate(18 484.0 230.6)"/>
<ellipse cx="486.8" cy="230.4" rx="4.60" ry="7.60" fill="none" stroke="#141414" stroke-width="0.97" transform="rotate(18 486.8 230.4)"/>
<path d="M482.5 237.5 Q482 242 486 243.3 Q490 242.5 491.8 238.5 Q492.5 236 490.5 234.5" fill="none" stroke="#141414" stroke-width="0.86" />
<path d="M484.5 238.5 Q486.5 240.5 489.5 238" fill="none" stroke="#141414" stroke-width="0.65" />
<line x1="495.0" y1="206.5" x2="488.0" y2="224.0" stroke="#141414" stroke-width="0.76"/>
<path d="M500.5 228.8 Q497 229.5 496.3 233.5 Q496 238 498 240 L530 256 L557.5 271.8 M500.5 228.8 L541 244.5 L565 257.3" fill="none" stroke="#141414" stroke-width="0.97" />
<ellipse cx="562.3" cy="265.3" rx="5.20" ry="8.40" fill="#fff" stroke="#141414" stroke-width="0.97" transform="rotate(-28 562.3 265.3)"/>
<ellipse cx="562.6" cy="265.5" rx="3.60" ry="6.40" fill="none" stroke="#141414" stroke-width="0.76" transform="rotate(-28 562.6 265.5)"/>
<line x1="546.0" y1="227.5" x2="540.5" y2="244.0" stroke="#141414" stroke-width="0.76"/>
<ellipse cx="574.3" cy="274.3" rx="5.00" ry="7.80" fill="none" stroke="#141414" stroke-width="0.97" transform="rotate(18 574.3 274.3)"/>
<ellipse cx="577.2" cy="274.2" rx="5.00" ry="7.80" fill="none" stroke="#141414" stroke-width="0.97" transform="rotate(18 577.2 274.2)"/>
<path d="M570.5 281.5 Q570 286 574 287.5 Q578.5 287 580.5 283 Q581 280.5 579 279" fill="none" stroke="#141414" stroke-width="0.86" />
<path d="M572.5 282.5 Q574.5 284.5 578 282.3" fill="none" stroke="#141414" stroke-width="0.65" />
<line x1="587.5" y1="250.5" x2="580.0" y2="269.5" stroke="#141414" stroke-width="0.76"/>
<line x1="580.0" y1="276.5" x2="597.0" y2="287.3" stroke="#141414" stroke-width="0.76"/>
<line x1="469.5" y1="345.0" x2="483.0" y2="351.3" stroke="#141414" stroke-width="0.76"/>
<path d="M488.5 344.5 L498 348.5 M485 362 L494.5 366.3" fill="none" stroke="#141414" stroke-width="0.97" />
<ellipse cx="487.3" cy="353.0" rx="5.60" ry="9.00" fill="#fff" stroke="#141414" stroke-width="0.97" transform="rotate(22 487.3 353.0)"/>
<ellipse cx="497.3" cy="357.5" rx="5.60" ry="9.00" fill="#fff" stroke="#141414" stroke-width="0.97" transform="rotate(22 497.3 357.5)"/>
<ellipse cx="489.3" cy="353.9" rx="5.60" ry="9.00" fill="none" stroke="#141414" stroke-width="0.76" transform="rotate(22 489.3 353.9)"/>
<ellipse cx="497.8" cy="357.7" rx="3.40" ry="5.60" fill="none" stroke="#141414" stroke-width="0.97" transform="rotate(22 497.8 357.7)"/>
<ellipse cx="498.1" cy="357.8" rx="1.90" ry="3.40" fill="#bbb" stroke="#141414" stroke-width="0.86" transform="rotate(22 498.1 357.8)"/>
<line x1="489.0" y1="381.0" x2="491.0" y2="366.5" stroke="#141414" stroke-width="0.76"/>
<path d="M507.5 359 L517 362.5 M506.5 366 L514 369.5" fill="none" stroke="#141414" stroke-width="0.97" />
<ellipse cx="507.3" cy="362.3" rx="2.00" ry="3.60" fill="none" stroke="#141414" stroke-width="0.86" transform="rotate(22 507.3 362.3)"/>
<ellipse cx="518.5" cy="367.3" rx="5.40" ry="7.60" fill="#fff" stroke="#141414" stroke-width="0.97" transform="rotate(22 518.5 367.3)"/>
<ellipse cx="519.0" cy="367.5" rx="3.00" ry="4.40" fill="none" stroke="#141414" stroke-width="0.86" transform="rotate(22 519.0 367.5)"/>
<line x1="516.0" y1="391.5" x2="516.5" y2="375.0" stroke="#141414" stroke-width="0.76"/>
<ellipse cx="531.6" cy="329.8" rx="4.40" ry="6.60" fill="#fff" stroke="#141414" stroke-width="0.97" transform="rotate(22 531.6 329.8)"/>
<ellipse cx="533.0" cy="330.4" rx="4.40" ry="6.60" fill="#fff" stroke="#141414" stroke-width="0.97" transform="rotate(22 533.0 330.4)"/>
<path d="M535 327 L545.5 331 M534 334.5 L544.5 338.5" fill="none" stroke="#141414" stroke-width="0.97" />
<ellipse cx="545.3" cy="334.7" rx="2.20" ry="3.80" fill="#fff" stroke="#141414" stroke-width="0.86" transform="rotate(22 545.3 334.7)"/>
<line x1="540.0" y1="303.0" x2="536.0" y2="324.0" stroke="#141414" stroke-width="0.76"/>
<path d="M554.5 331.5 L565 336 M551 348.3 L561.5 353.3" fill="none" stroke="#141414" stroke-width="0.97" />
<ellipse cx="553.5" cy="340.0" rx="5.40" ry="9.00" fill="#fff" stroke="#141414" stroke-width="0.97" transform="rotate(22 553.5 340.0)"/>
<ellipse cx="555.5" cy="341.0" rx="5.40" ry="9.00" fill="none" stroke="#141414" stroke-width="0.76" transform="rotate(22 555.5 341.0)"/>
<ellipse cx="564.5" cy="345.0" rx="5.40" ry="9.00" fill="#fff" stroke="#141414" stroke-width="0.97" transform="rotate(22 564.5 345.0)"/>
<ellipse cx="565.1" cy="345.2" rx="2.20" ry="3.40" fill="none" stroke="#141414" stroke-width="0.86" transform="rotate(22 565.1 345.2)"/>
<line x1="547.5" y1="365.0" x2="555.0" y2="351.5" stroke="#141414" stroke-width="0.76"/>
<line x1="568.0" y1="347.0" x2="582.0" y2="354.5" stroke="#141414" stroke-width="0.76"/>
<path d="M558.0 380.5 L568.5 378.0 L569.5 392.0 L559.0 394.5 Z" fill="#fff" stroke="#141414" stroke-width="0.97" />
<path d="M561.5 379.7 L562 385.5 Q563.8 387.5 565.8 385 L565.5 378.8" fill="none" stroke="#141414" stroke-width="0.86" />
<path d="M559 394.5 L560.5 392 L560 381" fill="none" stroke="#141414" stroke-width="0.65" />
<line x1="550.0" y1="390.5" x2="558.5" y2="388.5" stroke="#141414" stroke-width="0.76"/>
<line x1="570.5" y1="384.5" x2="589.5" y2="389.0" stroke="#333" stroke-width="0.70" stroke-dasharray="1.1 1.5" stroke-linecap="butt"/>
<path d="M548.0 410.0 L556.0 404.5 L561.0 405.5 L561.0 431.5 L554.0 439.0 L548.0 439.0 Z" fill="#fff" stroke="#141414" stroke-width="0.97" />
<path d="M556 404.5 L556.3 436.5 M558.5 405 L558.8 434 M548 439 L556.3 436.5" fill="none" stroke="#141414" stroke-width="0.76" />
<line x1="532.5" y1="430.5" x2="548.0" y2="425.0" stroke="#141414" stroke-width="0.76"/>
<path d="M561 419.5 L577.3 426 L577.3 368" fill="none" stroke="#141414" stroke-width="0.76" />
<ellipse cx="426.7" cy="409.0" rx="9.10" ry="4.90" fill="#fff" stroke="#141414" stroke-width="1.03"/>
<path d="M417.6 404.2 L417.6 409.0 L435.8 409.0 L435.8 404.2 Z" fill="#fff" stroke="none"/>
<line x1="417.6" y1="404.2" x2="417.6" y2="409.0" stroke="#141414" stroke-width="1.03"/>
<line x1="435.8" y1="404.2" x2="435.8" y2="409.0" stroke="#141414" stroke-width="1.03"/>
<ellipse cx="426.7" cy="404.2" rx="9.10" ry="4.90" fill="#fff" stroke="#141414" stroke-width="1.03"/>
<path d="M418.9 405.9 Q426.7 401.5 434.5 405.9" fill="none" stroke="#222" stroke-width="0.8"/>
<rect x="425.8" y="398.1" width="12.5" height="4.8" rx="1.6" fill="#fff" stroke="#141414" stroke-width="0.95" transform="rotate(35 432.0 400.5)"/>
<line x1="430.5" y1="398.1" x2="430.5" y2="402.9" stroke="#141414" stroke-width="0.8" transform="rotate(35 432.0 400.5)"/>
<line x1="399.0" y1="412.5" x2="417.5" y2="407.5" stroke="#141414" stroke-width="0.76"/>
<path d="M427.5 413.5 L427.5 435.5 L384 460" fill="none" stroke="#141414" stroke-width="0.86" />
<path d="M381 461.8 L367.5 470 L367.5 528" fill="none" stroke="#141414" stroke-width="0.86" />
<path d="M367.5 533.5 L367.5 562" fill="none" stroke="#141414" stroke-width="0.86" />
<path d="M357.6 568 L358.8 586 Q360 597 372 603.5 L388 610 Q397 612.5 404 607 Q410 602 412.3 594 M377.5 568 L377.3 580 Q378.5 585.5 386 587 L395 587.5 Q400 586.5 403 583.5" fill="none" stroke="#141414" stroke-width="0.97" />
<ellipse cx="367.6" cy="567.2" rx="10.00" ry="5.00" fill="#fff" stroke="#141414" stroke-width="0.97"/>
<ellipse cx="367.6" cy="567.4" rx="7.60" ry="3.40" fill="none" stroke="#141414" stroke-width="0.76"/>
<path d="M358.5 581 Q367 586.5 377.3 580.5 M358.8 583.5 Q367.5 589.5 377.8 583" fill="none" stroke="#141414" stroke-width="0.86" />
<path d="M403 583.5 Q409 583 411.5 588.5 Q413 592 412.3 594" fill="none" stroke="#141414" stroke-width="0.97" />
<line x1="340.5" y1="586.0" x2="359.0" y2="589.5" stroke="#141414" stroke-width="0.76"/>
<ellipse cx="424.2" cy="580.6" rx="7.40" ry="9.00" fill="none" stroke="#141414" stroke-width="0.97" transform="rotate(-25 424.2 580.6)"/>
<ellipse cx="425.6" cy="580.2" rx="7.40" ry="9.00" fill="none" stroke="#141414" stroke-width="0.97" transform="rotate(-25 425.6 580.2)"/>
<ellipse cx="426.3" cy="580.0" rx="5.80" ry="7.40" fill="none" stroke="#141414" stroke-width="0.65" transform="rotate(-25 426.3 580.0)"/>
<path d="M410.5 573 L414.5 572 L415.5 580 L411.5 581 Z" fill="#fff" stroke="#141414" stroke-width="0.86" />
<path d="M411.5 573 L411 570.5 L413.5 570 L414 572" fill="none" stroke="#141414" stroke-width="0.76" />
<line x1="445.0" y1="599.0" x2="430.5" y2="586.0" stroke="#141414" stroke-width="0.76"/>
<line x1="424.5" y1="580.5" x2="411.5" y2="588.5" stroke="#141414" stroke-width="0.76"/>
<path d="M416.1 561.1 L426.7 565.0 L427.9 561.8 L417.3 558.0 Z" fill="#fff" stroke="#141414" stroke-width="0.97" />
<path d="M419.6 562.4L421.4 559.5M421.1 562.9L422.9 560.0M422.6 563.5L424.4 560.6M424.1 564.0L425.9 561.1M425.6 564.5L427.4 561.7" fill="none" stroke="#141414" stroke-width="0.81" />
<ellipse cx="415.8" cy="559.2" rx="2.48" ry="6.20" fill="#fff" stroke="#141414" stroke-width="1.03" transform="rotate(19.88516511385549 415.8 559.2)"/>
<ellipse cx="414.4" cy="558.7" rx="2.48" ry="6.08" fill="#fff" stroke="#141414" stroke-width="0.97" transform="rotate(19.88516511385549 414.4 558.7)"/>
<ellipse cx="411.7" cy="557.8" rx="4.46" ry="4.96" fill="#fff" stroke="#141414" stroke-width="1.03" transform="rotate(19.88516511385549 411.7 557.8)"/>
<path d="M411.4 561.6 L413.9 554.6" fill="none" stroke="#141414" stroke-width="0.65" />
<line x1="421.0" y1="532.0" x2="415.0" y2="553.0" stroke="#141414" stroke-width="0.76"/>
<path d="M458.9 567.5 L460 580.5 Q461.5 584.5 465 585.2 Q468 585.3 469.6 583.5 L475.2 571.6 L474.6 567" fill="#fff" stroke="#141414" stroke-width="1.08" />
<path d="M461.3 569.5 L462.2 579.5 Q463.5 583 465.8 583.2 Q467.5 583 468.3 581.5 L473 571.5" fill="none" stroke="#141414" stroke-width="0.86" />
<ellipse cx="466.6" cy="578.8" rx="1.90" ry="1.60" fill="none" stroke="#141414" stroke-width="0.97"/>
<path d="M471.6 557 Q476 556.8 479.6 559.3 Q484.5 562.5 486.3 567 Q487.3 571 484 575 Q481.5 577 478.3 576.3" fill="#fff" stroke="#141414" stroke-width="0.97" />
<path d="M476.5 558.5 Q480 563 480 568.5 Q479.7 573 477.5 575.5 M478.3 558 Q482 563 482 568.5 Q481.7 573.5 479.3 576" fill="none" stroke="#141414" stroke-width="0.86" />
<path d="M462.7 539.4 L459 548.2 L451.6 554.4 M456.1 567.9 L466 560.5 Q468.5 559 468.4 556.5 M478.3 539.4 L471.6 557 Q470.5 560 473 562.5 Q475.5 566 474.6 567 L470.5 569.5 Q466.5 571 461 568.8 L458.9 567.5" fill="none" stroke="#141414" stroke-width="0.97" />
<path d="M459 548.2 L467.5 556.5 M461 546.8 L469 554.8" fill="none" stroke="#141414" stroke-width="0.86" />
<path d="M455.5 556.8 Q458.5 560.5 457.8 566" fill="none" stroke="#141414" stroke-width="0.76" />
<ellipse cx="470.5" cy="537.8" rx="7.80" ry="5.80" fill="#fff" stroke="#141414" stroke-width="1.19" transform="rotate(-5 470.5 537.8)"/>
<ellipse cx="470.6" cy="538.2" rx="6.20" ry="4.30" fill="none" stroke="#141414" stroke-width="0.76" transform="rotate(-5 470.6 538.2)"/>
<ellipse cx="451.1" cy="561.6" rx="6.00" ry="6.70" fill="#fff" stroke="#141414" stroke-width="1.19" transform="rotate(10 451.1 561.6)"/>
<ellipse cx="451.4" cy="561.8" rx="4.50" ry="5.20" fill="none" stroke="#141414" stroke-width="0.76" transform="rotate(10 451.4 561.8)"/>
<line x1="496.0" y1="551.0" x2="475.3" y2="549.0" stroke="#141414" stroke-width="0.76"/>
<line x1="488.3" y1="571.0" x2="509.4" y2="579.4" stroke="#141414" stroke-width="0.76"/>
<line x1="450.8" y1="562.0" x2="433.0" y2="574.3" stroke="#141414" stroke-width="0.76"/>
<line x1="428.8" y1="563.8" x2="466.0" y2="578.6" stroke="#141414" stroke-width="0.76"/>
<line x1="476.4" y1="528.5" x2="471.6" y2="538.3" stroke="#141414" stroke-width="0.76"/>
<ellipse cx="509.9" cy="579.4" rx="7.00" ry="7.70" fill="none" stroke="#141414" stroke-width="1.08" transform="rotate(10 509.9 579.4)"/>
<ellipse cx="509.9" cy="579.4" rx="5.70" ry="6.40" fill="none" stroke="#141414" stroke-width="0.65" transform="rotate(10 509.9 579.4)"/>
<line x1="506.0" y1="603.0" x2="508.5" y2="587.3" stroke="#141414" stroke-width="0.76"/>
<ellipse cx="480.3" cy="521.6" rx="9.10" ry="6.20" fill="none" stroke="#141414" stroke-width="0.97" transform="rotate(8 480.3 521.6)"/>
<ellipse cx="480.5" cy="518.8" rx="9.10" ry="6.20" fill="#fff" stroke="#141414" stroke-width="0.97" transform="rotate(8 480.5 518.8)"/>
<ellipse cx="480.6" cy="518.6" rx="7.50" ry="4.80" fill="none" stroke="#141414" stroke-width="0.65" transform="rotate(8 480.6 518.6)"/>
<path d="M470.5 506.5 L478.5 505.3 L480.5 508 L480 512.5 L472 513.5 Z" fill="#fff" stroke="#141414" stroke-width="0.86" />
<path d="M470.5 506.5 L468 507.3 L468.3 511.5 L471.5 511.5 M474.5 506 L475 513 M477 505.6 L477.5 512.8" fill="none" stroke="#141414" stroke-width="0.76" />
<line x1="460.0" y1="489.5" x2="470.0" y2="506.0" stroke="#141414" stroke-width="0.76"/>
<line x1="486.9" y1="506.4" x2="481.2" y2="518.5" stroke="#141414" stroke-width="0.76"/>
<path d="M498 504.5 Q492.5 506.3 487 504.3 Q482 501.5 481.7 497 L482.4 491.5 Q482.8 484.5 487.5 480.5 Q492.5 477 498.6 478.5 Q504.5 480.5 505.1 486.3 Q515 491 525.9 497.3 L550.6 512.9 Q559 518.5 566.2 525.3 L565.3 527 M482.4 491.5 Q484.5 495.5 488.2 498 Q492 501.5 497.3 505.1 L522 518.1 L553.2 537.6 Q561 543 568.8 544.1 Q576.5 543 581.8 533.7" fill="none" stroke="#141414" stroke-width="0.97" />
<path d="M498.8 481.3 Q503.5 482.5 505.1 486.3" fill="none" stroke="#141414" stroke-width="0.86" />
<ellipse cx="579.2" cy="525.3" rx="7.80" ry="8.20" fill="#fff" stroke="#141414" stroke-width="0.97"/>
<ellipse cx="579.4" cy="525.5" rx="5.70" ry="6.10" fill="none" stroke="#141414" stroke-width="0.76"/>
<line x1="527.5" y1="473.0" x2="526.3" y2="497.0" stroke="#141414" stroke-width="0.76"/>
<ellipse cx="592.6" cy="510.8" rx="8.60" ry="9.00" fill="none" stroke="#141414" stroke-width="0.97"/>
<ellipse cx="593.8" cy="509.3" rx="8.60" ry="9.00" fill="#fff" stroke="#141414" stroke-width="0.97"/>
<ellipse cx="594.2" cy="508.8" rx="7.00" ry="7.30" fill="none" stroke="#141414" stroke-width="0.65"/>
<path d="M597.5 500.5 L601 498.5 L608.5 503.5 L607.5 510.5 L601.5 509 Z" fill="#fff" stroke="#141414" stroke-width="0.86" />
<path d="M601 498.5 L601.5 509 M604.5 501 L604.8 509.8" fill="none" stroke="#141414" stroke-width="0.65" />
<line x1="610.0" y1="535.0" x2="599.5" y2="516.5" stroke="#141414" stroke-width="0.76"/>
<line x1="619.0" y1="481.0" x2="594.0" y2="509.0" stroke="#141414" stroke-width="0.76"/>
</g>
<g id="fan">
<path d="M674.4 37.5 L677.5 34.3 L689 38.8 L707.5 51 Q716 53.5 723 52.6 L727.5 57.5 L730.8 72.5 L739.8 85 L745.3 91.5 L746.8 102 L747.5 131.5 L745.5 158 L741 160.5 L738.8 156 L682 123 L675 124 L673.3 119.5 L674.6 112 L674.2 98 L676.8 96 L676.5 73 L674 70.5 L674 66 L678 64 L679 49 L674.5 47 Z" fill="#fff" stroke="#141414" stroke-width="0.97" />
<path d="M677.5 36.8 L688 41 L706.5 53.5 Q714 56.3 721.5 55.5 L725.3 59.5 L728.5 74 L737.5 86.5 L742.8 93 L744.3 103 L745 131 L743 156" fill="none" stroke="#141414" stroke-width="0.76" />
<path d="M682 123 L688 119.8 L741 146 L744.5 144 M688 119.8 L686 116" fill="none" stroke="#141414" stroke-width="0.86" />
<path d="M741 146 L741.8 158.5" fill="none" stroke="#141414" stroke-width="0.76" />
<path d="M679 49 L684.5 60 M676.5 73 L687.5 66 M676.8 96 L686.5 92 L686.5 67 M681 84.5 L686.5 78" fill="none" stroke="#444" stroke-width="0.65" />
<path d="M706.5 53.5 Q707.5 60 714 61.5 Q720 61.5 721.5 55.5" fill="none" stroke="#141414" stroke-width="0.76" />
<path d="M675 69 L675 100" fill="none" stroke="#141414" stroke-width="1.84" />
<path d="M729.5 62 L732.5 74.5 L741 87 L744 93.5" fill="none" stroke="#141414" stroke-width="0.76" />
<ellipse cx="685.8" cy="53.6" rx="6.00" ry="6.80" fill="#fff" stroke="#141414" stroke-width="0.97" transform="rotate(15 685.8 53.6)"/>
<ellipse cx="683.8" cy="53.0" rx="4.60" ry="5.80" fill="#fff" stroke="#141414" stroke-width="0.97" transform="rotate(15 683.8 53.0)"/>
<ellipse cx="683.9" cy="53.1" rx="1.60" ry="2.20" fill="none" stroke="#141414" stroke-width="0.86" transform="rotate(15 683.9 53.1)"/>
<ellipse cx="685.3" cy="112.2" rx="6.00" ry="6.80" fill="#fff" stroke="#141414" stroke-width="0.97" transform="rotate(15 685.3 112.2)"/>
<ellipse cx="683.3" cy="111.6" rx="4.60" ry="5.80" fill="#fff" stroke="#141414" stroke-width="0.97" transform="rotate(15 683.3 111.6)"/>
<ellipse cx="683.4" cy="111.7" rx="1.60" ry="2.20" fill="none" stroke="#141414" stroke-width="0.86" transform="rotate(15 683.4 111.7)"/>
<path d="M745.5 96.5 Q751.5 97 752.5 103.5 Q752.5 109.5 747 111" fill="none" stroke="#141414" stroke-width="0.97" />
<ellipse cx="715.5" cy="101.6" rx="24.00" ry="36.00" fill="#fff" stroke="#1c1c1c" stroke-width="1.24" transform="rotate(-30 715.5 101.6)"/>
<ellipse cx="715.5" cy="101.6" rx="22.80" ry="34.70" fill="none" stroke="#333" stroke-width="0.86" transform="rotate(-30 715.5 101.6)"/>
<ellipse cx="715.5" cy="101.6" rx="21.50" ry="33.20" fill="none" stroke="#1c1c1c" stroke-width="1.08" transform="rotate(-30 715.5 101.6)"/>
<ellipse cx="715.5" cy="101.6" rx="20.50" ry="32.00" fill="none" stroke="#555" stroke-width="0.65" transform="rotate(-30 715.5 101.6)"/>
<g transform="translate(715.5 101.6) rotate(-30) scale(20.5 32.0)"><path d="M0.360 0.000 L0.436 0.034 L0.507 0.092 L0.567 0.171 L0.614 0.269 L0.641 0.385 L0.645 0.514 L0.623 0.653 L0.570 0.797M0.319 0.167 L0.370 0.233 L0.406 0.317 L0.423 0.415 L0.418 0.524 L0.389 0.638 L0.332 0.755 L0.248 0.868 L0.134 0.971M0.205 0.296 L0.220 0.378 L0.212 0.469 L0.182 0.564 L0.127 0.658 L0.048 0.746 L-0.056 0.823 L-0.184 0.884 L-0.332 0.922M0.043 0.357 L0.019 0.437 L-0.030 0.514 L-0.101 0.584 L-0.193 0.642 L-0.305 0.683 L-0.433 0.703 L-0.573 0.697 L-0.723 0.662M-0.128 0.337 L-0.187 0.396 L-0.266 0.441 L-0.361 0.470 L-0.469 0.478 L-0.587 0.463 L-0.709 0.421 L-0.832 0.351 L-0.947 0.250M-0.269 0.239 L-0.349 0.264 L-0.440 0.267 L-0.538 0.248 L-0.638 0.205 L-0.735 0.137 L-0.824 0.043 L-0.899 -0.076 L-0.955 -0.219M-0.350 0.086 L-0.432 0.071 L-0.514 0.032 L-0.592 -0.030 L-0.660 -0.115 L-0.714 -0.220 L-0.750 -0.345 L-0.761 -0.485 L-0.744 -0.638M-0.350 -0.086 L-0.415 -0.138 L-0.470 -0.211 L-0.510 -0.302 L-0.531 -0.408 L-0.530 -0.527 L-0.504 -0.654 L-0.448 -0.783 L-0.363 -0.910M-0.269 -0.239 L-0.304 -0.315 L-0.318 -0.405 L-0.311 -0.504 L-0.281 -0.608 L-0.225 -0.713 L-0.142 -0.813 L-0.033 -0.902 L0.102 -0.975M-0.128 -0.337 L-0.123 -0.420 L-0.093 -0.506 L-0.041 -0.591 L0.034 -0.669 L0.132 -0.736 L0.252 -0.786 L0.390 -0.814 L0.543 -0.816M0.043 -0.357 L0.087 -0.429 L0.153 -0.492 L0.238 -0.543 L0.341 -0.577 L0.459 -0.590 L0.588 -0.579 L0.724 -0.539 L0.860 -0.470M0.205 -0.296 L0.276 -0.339 L0.364 -0.365 L0.463 -0.370 L0.570 -0.352 L0.681 -0.309 L0.790 -0.239 L0.891 -0.141 L0.980 -0.016M0.319 -0.167 L0.402 -0.172 L0.491 -0.154 L0.582 -0.112 L0.668 -0.047 L0.746 0.043 L0.810 0.155 L0.855 0.289 L0.875 0.441" fill="none" stroke="#222" stroke-width="0.95" vector-effect="non-scaling-stroke"/></g>
<ellipse cx="714.4" cy="101.8" rx="7.20" ry="10.40" fill="#fff" stroke="#141414" stroke-width="1.08" transform="rotate(-30 714.4 101.8)"/>
<ellipse cx="714.4" cy="102.0" rx="3.00" ry="3.80" fill="#fff" stroke="#141414" stroke-width="0.97" transform="rotate(-30 714.4 102.0)"/>
<ellipse cx="714.4" cy="102.2" rx="1.50" ry="2.00" fill="#555" stroke="#141414" stroke-width="0.86" transform="rotate(-30 714.4 102.2)"/>
<line x1="720.4" y1="30.8" x2="716.8" y2="49.5" stroke="#141414" stroke-width="0.76"/>
<path d="M764.6 65.0 L754.5 70.5 L756.1 73.5 L766.2 68.0 Z" fill="#fff" stroke="#141414" stroke-width="0.97" />
<path d="M761.5 66.7L762.5 70.1M760.1 67.5L761.1 70.8M758.6 68.3L759.6 71.6M757.2 69.0L758.2 72.3M755.8 69.8L756.8 73.1" fill="none" stroke="#141414" stroke-width="0.81" />
<ellipse cx="766.2" cy="66.1" rx="2.40" ry="6.00" fill="#fff" stroke="#141414" stroke-width="1.03" transform="rotate(151.57095116691397 766.2 66.1)"/>
<ellipse cx="767.5" cy="65.4" rx="2.40" ry="5.88" fill="#fff" stroke="#141414" stroke-width="0.97" transform="rotate(151.57095116691397 767.5 65.4)"/>
<ellipse cx="769.9" cy="64.1" rx="4.32" ry="4.80" fill="#fff" stroke="#141414" stroke-width="1.03" transform="rotate(151.57095116691397 769.9 64.1)"/>
<path d="M767.4 61.3 L770.8 67.7" fill="none" stroke="#141414" stroke-width="0.65" />
<line x1="754.0" y1="73.0" x2="743.3" y2="78.8" stroke="#141414" stroke-width="0.76"/>
<line x1="761.0" y1="42.0" x2="766.3" y2="59.5" stroke="#141414" stroke-width="0.76"/>
<path d="M637.8 130.0 L646.5 128.5 L649.5 131.5 L649.3 141.5 L640.5 142.5 L637.5 139.5 Z" fill="#fff" stroke="#141414" stroke-width="0.97" />
<path d="M640.5 142.5 L640.5 133 L649.5 131.5 M637.8 130 L640.5 133" fill="none" stroke="#141414" stroke-width="0.76" />
<circle cx="643.3" cy="138.0" r="2.00" fill="none" stroke="#141414" stroke-width="0.97"/>
<circle cx="643.3" cy="138.0" r="0.90" fill="none" stroke="#141414" stroke-width="0.76"/>
<line x1="639.3" y1="111.0" x2="642.0" y2="129.0" stroke="#141414" stroke-width="0.76"/>
<line x1="650.0" y1="132.5" x2="683.0" y2="112.8" stroke="#141414" stroke-width="0.76"/>
</g>
<g id="guard-right">
<path d="M849.9 376.3a1.35 2.6 20 1 0 2.5 0.9a1.35 2.6 20 1 0 -2.5 -0.9M845.1 380.2a1.35 2.6 20 1 0 2.5 0.9a1.35 2.6 20 1 0 -2.5 -0.9M840.3 384.1a1.35 2.6 20 1 0 2.5 0.9a1.35 2.6 20 1 0 -2.5 -0.9M835.5 388.0a1.35 2.6 20 1 0 2.5 0.9a1.35 2.6 20 1 0 -2.5 -0.9M856.4 378.7a1.35 2.6 20 1 0 2.5 0.9a1.35 2.6 20 1 0 -2.5 -0.9M851.6 382.6a1.35 2.6 20 1 0 2.5 0.9a1.35 2.6 20 1 0 -2.5 -0.9M846.8 386.5a1.35 2.6 20 1 0 2.5 0.9a1.35 2.6 20 1 0 -2.5 -0.9M842.0 390.4a1.35 2.6 20 1 0 2.5 0.9a1.35 2.6 20 1 0 -2.5 -0.9M837.2 394.3a1.35 2.6 20 1 0 2.5 0.9a1.35 2.6 20 1 0 -2.5 -0.9M832.4 398.2a1.35 2.6 20 1 0 2.5 0.9a1.35 2.6 20 1 0 -2.5 -0.9M862.9 381.1a1.35 2.6 20 1 0 2.5 0.9a1.35 2.6 20 1 0 -2.5 -0.9M858.1 385.0a1.35 2.6 20 1 0 2.5 0.9a1.35 2.6 20 1 0 -2.5 -0.9M853.3 388.9a1.35 2.6 20 1 0 2.5 0.9a1.35 2.6 20 1 0 -2.5 -0.9M848.5 392.8a1.35 2.6 20 1 0 2.5 0.9a1.35 2.6 20 1 0 -2.5 -0.9M843.7 396.7a1.35 2.6 20 1 0 2.5 0.9a1.35 2.6 20 1 0 -2.5 -0.9M838.9 400.6a1.35 2.6 20 1 0 2.5 0.9a1.35 2.6 20 1 0 -2.5 -0.9M834.1 404.5a1.35 2.6 20 1 0 2.5 0.9a1.35 2.6 20 1 0 -2.5 -0.9M829.3 408.4a1.35 2.6 20 1 0 2.5 0.9a1.35 2.6 20 1 0 -2.5 -0.9M835.8 410.8a1.35 2.6 20 1 0 2.5 0.9a1.35 2.6 20 1 0 -2.5 -0.9" fill="none" stroke="#2a2a2a" stroke-width="0.9"/>
<path d="M844.0 413.8a2.4 2.7 0 1 0 4.8 0.0a2.4 2.7 0 1 0 -4.8 -0.0M844.4 420.1a2.4 2.7 0 1 0 4.8 0.0a2.4 2.7 0 1 0 -4.8 -0.0M844.6 426.4a2.4 2.7 0 1 0 4.8 0.0a2.4 2.7 0 1 0 -4.8 -0.0M844.9 432.7a2.4 2.7 0 1 0 4.8 0.0a2.4 2.7 0 1 0 -4.8 -0.0M845.2 439.0a2.4 2.7 0 1 0 4.8 0.0a2.4 2.7 0 1 0 -4.8 -0.0M849.5 411.4a2.4 2.7 0 1 0 4.8 0.0a2.4 2.7 0 1 0 -4.8 -0.0M849.9 417.7a2.4 2.7 0 1 0 4.8 0.0a2.4 2.7 0 1 0 -4.8 -0.0M850.1 424.0a2.4 2.7 0 1 0 4.8 0.0a2.4 2.7 0 1 0 -4.8 -0.0M850.4 430.3a2.4 2.7 0 1 0 4.8 0.0a2.4 2.7 0 1 0 -4.8 -0.0M850.8 436.6a2.4 2.7 0 1 0 4.8 0.0a2.4 2.7 0 1 0 -4.8 -0.0M851.0 442.9a2.4 2.7 0 1 0 4.8 0.0a2.4 2.7 0 1 0 -4.8 -0.0M851.4 449.2a2.4 2.7 0 1 0 4.8 0.0a2.4 2.7 0 1 0 -4.8 -0.0M851.6 455.5a2.4 2.7 0 1 0 4.8 0.0a2.4 2.7 0 1 0 -4.8 -0.0M854.8 402.7a2.4 2.7 0 1 0 4.8 0.0a2.4 2.7 0 1 0 -4.8 -0.0M855.0 409.0a2.4 2.7 0 1 0 4.8 0.0a2.4 2.7 0 1 0 -4.8 -0.0M855.4 415.3a2.4 2.7 0 1 0 4.8 0.0a2.4 2.7 0 1 0 -4.8 -0.0M855.6 421.6a2.4 2.7 0 1 0 4.8 0.0a2.4 2.7 0 1 0 -4.8 -0.0M855.9 427.9a2.4 2.7 0 1 0 4.8 0.0a2.4 2.7 0 1 0 -4.8 -0.0M856.2 434.2a2.4 2.7 0 1 0 4.8 0.0a2.4 2.7 0 1 0 -4.8 -0.0M856.5 440.5a2.4 2.7 0 1 0 4.8 0.0a2.4 2.7 0 1 0 -4.8 -0.0M857.4 459.4a2.4 2.7 0 1 0 4.8 0.0a2.4 2.7 0 1 0 -4.8 -0.0M857.8 465.7a2.4 2.7 0 1 0 4.8 0.0a2.4 2.7 0 1 0 -4.8 -0.0M858.0 472.0a2.4 2.7 0 1 0 4.8 0.0a2.4 2.7 0 1 0 -4.8 -0.0M860.2 400.3a2.4 2.7 0 1 0 4.8 0.0a2.4 2.7 0 1 0 -4.8 -0.0M860.5 406.6a2.4 2.7 0 1 0 4.8 0.0a2.4 2.7 0 1 0 -4.8 -0.0M860.9 412.9a2.4 2.7 0 1 0 4.8 0.0a2.4 2.7 0 1 0 -4.8 -0.0M861.1 419.2a2.4 2.7 0 1 0 4.8 0.0a2.4 2.7 0 1 0 -4.8 -0.0M861.4 425.5a2.4 2.7 0 1 0 4.8 0.0a2.4 2.7 0 1 0 -4.8 -0.0M861.8 431.8a2.4 2.7 0 1 0 4.8 0.0a2.4 2.7 0 1 0 -4.8 -0.0M862.0 438.1a2.4 2.7 0 1 0 4.8 0.0a2.4 2.7 0 1 0 -4.8 -0.0M862.6 450.7a2.4 2.7 0 1 0 4.8 0.0a2.4 2.7 0 1 0 -4.8 -0.0M862.9 457.0a2.4 2.7 0 1 0 4.8 0.0a2.4 2.7 0 1 0 -4.8 -0.0M863.2 463.3a2.4 2.7 0 1 0 4.8 0.0a2.4 2.7 0 1 0 -4.8 -0.0M863.5 469.6a2.4 2.7 0 1 0 4.8 0.0a2.4 2.7 0 1 0 -4.8 -0.0M863.9 475.9a2.4 2.7 0 1 0 4.8 0.0a2.4 2.7 0 1 0 -4.8 -0.0M864.1 482.2a2.4 2.7 0 1 0 4.8 0.0a2.4 2.7 0 1 0 -4.8 -0.0M864.4 488.5a2.4 2.7 0 1 0 4.8 0.0a2.4 2.7 0 1 0 -4.8 -0.0M864.8 494.8a2.4 2.7 0 1 0 4.8 0.0a2.4 2.7 0 1 0 -4.8 -0.0M865.4 391.6a2.4 2.7 0 1 0 4.8 0.0a2.4 2.7 0 1 0 -4.8 -0.0M865.8 397.9a2.4 2.7 0 1 0 4.8 0.0a2.4 2.7 0 1 0 -4.8 -0.0M866.0 404.2a2.4 2.7 0 1 0 4.8 0.0a2.4 2.7 0 1 0 -4.8 -0.0M866.4 410.5a2.4 2.7 0 1 0 4.8 0.0a2.4 2.7 0 1 0 -4.8 -0.0M866.6 416.8a2.4 2.7 0 1 0 4.8 0.0a2.4 2.7 0 1 0 -4.8 -0.0M866.9 423.1a2.4 2.7 0 1 0 4.8 0.0a2.4 2.7 0 1 0 -4.8 -0.0M867.2 429.4a2.4 2.7 0 1 0 4.8 0.0a2.4 2.7 0 1 0 -4.8 -0.0M867.5 435.7a2.4 2.7 0 1 0 4.8 0.0a2.4 2.7 0 1 0 -4.8 -0.0M868.1 448.3a2.4 2.7 0 1 0 4.8 0.0a2.4 2.7 0 1 0 -4.8 -0.0M868.4 454.6a2.4 2.7 0 1 0 4.8 0.0a2.4 2.7 0 1 0 -4.8 -0.0M868.8 460.9a2.4 2.7 0 1 0 4.8 0.0a2.4 2.7 0 1 0 -4.8 -0.0M869.0 467.2a2.4 2.7 0 1 0 4.8 0.0a2.4 2.7 0 1 0 -4.8 -0.0M869.4 473.5a2.4 2.7 0 1 0 4.8 0.0a2.4 2.7 0 1 0 -4.8 -0.0M869.6 479.8a2.4 2.7 0 1 0 4.8 0.0a2.4 2.7 0 1 0 -4.8 -0.0M869.9 486.1a2.4 2.7 0 1 0 4.8 0.0a2.4 2.7 0 1 0 -4.8 -0.0M870.2 492.4a2.4 2.7 0 1 0 4.8 0.0a2.4 2.7 0 1 0 -4.8 -0.0M870.5 498.7a2.4 2.7 0 1 0 4.8 0.0a2.4 2.7 0 1 0 -4.8 -0.0M870.9 505.0a2.4 2.7 0 1 0 4.8 0.0a2.4 2.7 0 1 0 -4.8 -0.0M871.1 511.3a2.4 2.7 0 1 0 4.8 0.0a2.4 2.7 0 1 0 -4.8 -0.0M870.9 389.2a2.4 2.7 0 1 0 4.8 0.0a2.4 2.7 0 1 0 -4.8 -0.0M871.2 395.5a2.4 2.7 0 1 0 4.8 0.0a2.4 2.7 0 1 0 -4.8 -0.0M871.5 401.8a2.4 2.7 0 1 0 4.8 0.0a2.4 2.7 0 1 0 -4.8 -0.0M871.9 408.1a2.4 2.7 0 1 0 4.8 0.0a2.4 2.7 0 1 0 -4.8 -0.0M872.1 414.4a2.4 2.7 0 1 0 4.8 0.0a2.4 2.7 0 1 0 -4.8 -0.0M872.4 420.7a2.4 2.7 0 1 0 4.8 0.0a2.4 2.7 0 1 0 -4.8 -0.0M872.8 427.0a2.4 2.7 0 1 0 4.8 0.0a2.4 2.7 0 1 0 -4.8 -0.0M873.4 439.6a2.4 2.7 0 1 0 4.8 0.0a2.4 2.7 0 1 0 -4.8 -0.0M873.6 445.9a2.4 2.7 0 1 0 4.8 0.0a2.4 2.7 0 1 0 -4.8 -0.0M873.9 452.2a2.4 2.7 0 1 0 4.8 0.0a2.4 2.7 0 1 0 -4.8 -0.0M874.2 458.5a2.4 2.7 0 1 0 4.8 0.0a2.4 2.7 0 1 0 -4.8 -0.0M874.5 464.8a2.4 2.7 0 1 0 4.8 0.0a2.4 2.7 0 1 0 -4.8 -0.0M874.9 471.1a2.4 2.7 0 1 0 4.8 0.0a2.4 2.7 0 1 0 -4.8 -0.0M875.1 477.4a2.4 2.7 0 1 0 4.8 0.0a2.4 2.7 0 1 0 -4.8 -0.0M875.4 483.7a2.4 2.7 0 1 0 4.8 0.0a2.4 2.7 0 1 0 -4.8 -0.0M875.8 490.0a2.4 2.7 0 1 0 4.8 0.0a2.4 2.7 0 1 0 -4.8 -0.0M876.0 496.3a2.4 2.7 0 1 0 4.8 0.0a2.4 2.7 0 1 0 -4.8 -0.0M876.4 502.6a2.4 2.7 0 1 0 4.8 0.0a2.4 2.7 0 1 0 -4.8 -0.0M876.6 508.9a2.4 2.7 0 1 0 4.8 0.0a2.4 2.7 0 1 0 -4.8 -0.0M876.9 515.2a2.4 2.7 0 1 0 4.8 0.0a2.4 2.7 0 1 0 -4.8 -0.0M877.2 521.5a2.4 2.7 0 1 0 4.8 0.0a2.4 2.7 0 1 0 -4.8 -0.0M877.5 527.8a2.4 2.7 0 1 0 4.8 0.0a2.4 2.7 0 1 0 -4.8 -0.0M876.8 393.1a2.4 2.7 0 1 0 4.8 0.0a2.4 2.7 0 1 0 -4.8 -0.0M877.0 399.4a2.4 2.7 0 1 0 4.8 0.0a2.4 2.7 0 1 0 -4.8 -0.0M877.4 405.7a2.4 2.7 0 1 0 4.8 0.0a2.4 2.7 0 1 0 -4.8 -0.0M877.6 412.0a2.4 2.7 0 1 0 4.8 0.0a2.4 2.7 0 1 0 -4.8 -0.0M877.9 418.3a2.4 2.7 0 1 0 4.8 0.0a2.4 2.7 0 1 0 -4.8 -0.0M878.2 424.6a2.4 2.7 0 1 0 4.8 0.0a2.4 2.7 0 1 0 -4.8 -0.0M878.9 437.2a2.4 2.7 0 1 0 4.8 0.0a2.4 2.7 0 1 0 -4.8 -0.0M879.1 443.5a2.4 2.7 0 1 0 4.8 0.0a2.4 2.7 0 1 0 -4.8 -0.0M879.4 449.8a2.4 2.7 0 1 0 4.8 0.0a2.4 2.7 0 1 0 -4.8 -0.0M879.8 456.1a2.4 2.7 0 1 0 4.8 0.0a2.4 2.7 0 1 0 -4.8 -0.0M880.0 462.4a2.4 2.7 0 1 0 4.8 0.0a2.4 2.7 0 1 0 -4.8 -0.0M880.4 468.7a2.4 2.7 0 1 0 4.8 0.0a2.4 2.7 0 1 0 -4.8 -0.0M880.6 475.0a2.4 2.7 0 1 0 4.8 0.0a2.4 2.7 0 1 0 -4.8 -0.0M880.9 481.3a2.4 2.7 0 1 0 4.8 0.0a2.4 2.7 0 1 0 -4.8 -0.0M881.2 487.6a2.4 2.7 0 1 0 4.8 0.0a2.4 2.7 0 1 0 -4.8 -0.0M881.5 493.9a2.4 2.7 0 1 0 4.8 0.0a2.4 2.7 0 1 0 -4.8 -0.0M881.9 500.2a2.4 2.7 0 1 0 4.8 0.0a2.4 2.7 0 1 0 -4.8 -0.0M882.1 506.5a2.4 2.7 0 1 0 4.8 0.0a2.4 2.7 0 1 0 -4.8 -0.0M882.4 512.8a2.4 2.7 0 1 0 4.8 0.0a2.4 2.7 0 1 0 -4.8 -0.0M882.8 519.1a2.4 2.7 0 1 0 4.8 0.0a2.4 2.7 0 1 0 -4.8 -0.0M883.0 525.4a2.4 2.7 0 1 0 4.8 0.0a2.4 2.7 0 1 0 -4.8 -0.0M883.4 531.7a2.4 2.7 0 1 0 4.8 0.0a2.4 2.7 0 1 0 -4.8 -0.0M883.6 538.0a2.4 2.7 0 1 0 4.8 0.0a2.4 2.7 0 1 0 -4.8 -0.0M883.9 544.3a2.4 2.7 0 1 0 4.8 0.0a2.4 2.7 0 1 0 -4.8 -0.0M882.2 390.7a2.4 2.7 0 1 0 4.8 0.0a2.4 2.7 0 1 0 -4.8 -0.0M882.5 397.0a2.4 2.7 0 1 0 4.8 0.0a2.4 2.7 0 1 0 -4.8 -0.0M882.9 403.3a2.4 2.7 0 1 0 4.8 0.0a2.4 2.7 0 1 0 -4.8 -0.0M883.1 409.6a2.4 2.7 0 1 0 4.8 0.0a2.4 2.7 0 1 0 -4.8 -0.0M883.4 415.9a2.4 2.7 0 1 0 4.8 0.0a2.4 2.7 0 1 0 -4.8 -0.0M883.8 422.2a2.4 2.7 0 1 0 4.8 0.0a2.4 2.7 0 1 0 -4.8 -0.0M884.0 428.5a2.4 2.7 0 1 0 4.8 0.0a2.4 2.7 0 1 0 -4.8 -0.0M884.4 434.8a2.4 2.7 0 1 0 4.8 0.0a2.4 2.7 0 1 0 -4.8 -0.0M884.6 441.1a2.4 2.7 0 1 0 4.8 0.0a2.4 2.7 0 1 0 -4.8 -0.0M884.9 447.4a2.4 2.7 0 1 0 4.8 0.0a2.4 2.7 0 1 0 -4.8 -0.0M885.2 453.7a2.4 2.7 0 1 0 4.8 0.0a2.4 2.7 0 1 0 -4.8 -0.0M885.5 460.0a2.4 2.7 0 1 0 4.8 0.0a2.4 2.7 0 1 0 -4.8 -0.0M885.9 466.3a2.4 2.7 0 1 0 4.8 0.0a2.4 2.7 0 1 0 -4.8 -0.0M886.1 472.6a2.4 2.7 0 1 0 4.8 0.0a2.4 2.7 0 1 0 -4.8 -0.0M886.4 478.9a2.4 2.7 0 1 0 4.8 0.0a2.4 2.7 0 1 0 -4.8 -0.0M886.8 485.2a2.4 2.7 0 1 0 4.8 0.0a2.4 2.7 0 1 0 -4.8 -0.0M887.0 491.5a2.4 2.7 0 1 0 4.8 0.0a2.4 2.7 0 1 0 -4.8 -0.0M887.4 497.8a2.4 2.7 0 1 0 4.8 0.0a2.4 2.7 0 1 0 -4.8 -0.0M887.6 504.1a2.4 2.7 0 1 0 4.8 0.0a2.4 2.7 0 1 0 -4.8 -0.0M887.9 510.4a2.4 2.7 0 1 0 4.8 0.0a2.4 2.7 0 1 0 -4.8 -0.0M888.2 516.7a2.4 2.7 0 1 0 4.8 0.0a2.4 2.7 0 1 0 -4.8 -0.0M888.5 523.0a2.4 2.7 0 1 0 4.8 0.0a2.4 2.7 0 1 0 -4.8 -0.0M888.9 529.3a2.4 2.7 0 1 0 4.8 0.0a2.4 2.7 0 1 0 -4.8 -0.0M889.1 535.6a2.4 2.7 0 1 0 4.8 0.0a2.4 2.7 0 1 0 -4.8 -0.0M889.4 541.9a2.4 2.7 0 1 0 4.8 0.0a2.4 2.7 0 1 0 -4.8 -0.0" fill="none" stroke="#2a2a2a" stroke-width="0.85"/>
<path d="M823.7 497.7a1.45 2.25 -28 1 0 2.6 -1.4a1.45 2.25 -28 1 0 -2.6 1.4M824.8 503.1a1.45 2.25 -28 1 0 2.6 -1.4a1.45 2.25 -28 1 0 -2.6 1.4M825.9 508.5a1.45 2.25 -28 1 0 2.6 -1.4a1.45 2.25 -28 1 0 -2.6 1.4M827.0 513.9a1.45 2.25 -28 1 0 2.6 -1.4a1.45 2.25 -28 1 0 -2.6 1.4M828.1 519.3a1.45 2.25 -28 1 0 2.6 -1.4a1.45 2.25 -28 1 0 -2.6 1.4M829.2 524.7a1.45 2.25 -28 1 0 2.6 -1.4a1.45 2.25 -28 1 0 -2.6 1.4M830.3 530.1a1.45 2.25 -28 1 0 2.6 -1.4a1.45 2.25 -28 1 0 -2.6 1.4M816.2 440.0a1.45 2.25 -28 1 0 2.6 -1.4a1.45 2.25 -28 1 0 -2.6 1.4M817.3 445.4a1.45 2.25 -28 1 0 2.6 -1.4a1.45 2.25 -28 1 0 -2.6 1.4M818.4 450.8a1.45 2.25 -28 1 0 2.6 -1.4a1.45 2.25 -28 1 0 -2.6 1.4M819.5 456.2a1.45 2.25 -28 1 0 2.6 -1.4a1.45 2.25 -28 1 0 -2.6 1.4M820.6 461.6a1.45 2.25 -28 1 0 2.6 -1.4a1.45 2.25 -28 1 0 -2.6 1.4M821.7 467.0a1.45 2.25 -28 1 0 2.6 -1.4a1.45 2.25 -28 1 0 -2.6 1.4M822.8 472.4a1.45 2.25 -28 1 0 2.6 -1.4a1.45 2.25 -28 1 0 -2.6 1.4M823.9 477.8a1.45 2.25 -28 1 0 2.6 -1.4a1.45 2.25 -28 1 0 -2.6 1.4M825.0 483.2a1.45 2.25 -28 1 0 2.6 -1.4a1.45 2.25 -28 1 0 -2.6 1.4M826.1 488.6a1.45 2.25 -28 1 0 2.6 -1.4a1.45 2.25 -28 1 0 -2.6 1.4M827.2 494.0a1.45 2.25 -28 1 0 2.6 -1.4a1.45 2.25 -28 1 0 -2.6 1.4M828.3 499.4a1.45 2.25 -28 1 0 2.6 -1.4a1.45 2.25 -28 1 0 -2.6 1.4M829.4 504.8a1.45 2.25 -28 1 0 2.6 -1.4a1.45 2.25 -28 1 0 -2.6 1.4M830.5 510.2a1.45 2.25 -28 1 0 2.6 -1.4a1.45 2.25 -28 1 0 -2.6 1.4M831.6 515.6a1.45 2.25 -28 1 0 2.6 -1.4a1.45 2.25 -28 1 0 -2.6 1.4M832.7 521.0a1.45 2.25 -28 1 0 2.6 -1.4a1.45 2.25 -28 1 0 -2.6 1.4M833.8 526.4a1.45 2.25 -28 1 0 2.6 -1.4a1.45 2.25 -28 1 0 -2.6 1.4M834.9 531.8a1.45 2.25 -28 1 0 2.6 -1.4a1.45 2.25 -28 1 0 -2.6 1.4M817.5 425.5a1.45 2.25 -28 1 0 2.6 -1.4a1.45 2.25 -28 1 0 -2.6 1.4M818.6 430.9a1.45 2.25 -28 1 0 2.6 -1.4a1.45 2.25 -28 1 0 -2.6 1.4M819.7 436.3a1.45 2.25 -28 1 0 2.6 -1.4a1.45 2.25 -28 1 0 -2.6 1.4M820.8 441.7a1.45 2.25 -28 1 0 2.6 -1.4a1.45 2.25 -28 1 0 -2.6 1.4M821.9 447.1a1.45 2.25 -28 1 0 2.6 -1.4a1.45 2.25 -28 1 0 -2.6 1.4M823.0 452.5a1.45 2.25 -28 1 0 2.6 -1.4a1.45 2.25 -28 1 0 -2.6 1.4M824.1 457.9a1.45 2.25 -28 1 0 2.6 -1.4a1.45 2.25 -28 1 0 -2.6 1.4M825.2 463.3a1.45 2.25 -28 1 0 2.6 -1.4a1.45 2.25 -28 1 0 -2.6 1.4M826.3 468.7a1.45 2.25 -28 1 0 2.6 -1.4a1.45 2.25 -28 1 0 -2.6 1.4M827.4 474.1a1.45 2.25 -28 1 0 2.6 -1.4a1.45 2.25 -28 1 0 -2.6 1.4M828.5 479.5a1.45 2.25 -28 1 0 2.6 -1.4a1.45 2.25 -28 1 0 -2.6 1.4M829.6 484.9a1.45 2.25 -28 1 0 2.6 -1.4a1.45 2.25 -28 1 0 -2.6 1.4M830.7 490.3a1.45 2.25 -28 1 0 2.6 -1.4a1.45 2.25 -28 1 0 -2.6 1.4M831.8 495.7a1.45 2.25 -28 1 0 2.6 -1.4a1.45 2.25 -28 1 0 -2.6 1.4M832.9 501.1a1.45 2.25 -28 1 0 2.6 -1.4a1.45 2.25 -28 1 0 -2.6 1.4M834.0 506.5a1.45 2.25 -28 1 0 2.6 -1.4a1.45 2.25 -28 1 0 -2.6 1.4M835.1 511.9a1.45 2.25 -28 1 0 2.6 -1.4a1.45 2.25 -28 1 0 -2.6 1.4M836.2 517.3a1.45 2.25 -28 1 0 2.6 -1.4a1.45 2.25 -28 1 0 -2.6 1.4M837.3 522.7a1.45 2.25 -28 1 0 2.6 -1.4a1.45 2.25 -28 1 0 -2.6 1.4M838.4 528.1a1.45 2.25 -28 1 0 2.6 -1.4a1.45 2.25 -28 1 0 -2.6 1.4M839.5 533.5a1.45 2.25 -28 1 0 2.6 -1.4a1.45 2.25 -28 1 0 -2.6 1.4M821.0 421.8a1.45 2.25 -28 1 0 2.6 -1.4a1.45 2.25 -28 1 0 -2.6 1.4M822.1 427.2a1.45 2.25 -28 1 0 2.6 -1.4a1.45 2.25 -28 1 0 -2.6 1.4M823.2 432.6a1.45 2.25 -28 1 0 2.6 -1.4a1.45 2.25 -28 1 0 -2.6 1.4M824.3 438.0a1.45 2.25 -28 1 0 2.6 -1.4a1.45 2.25 -28 1 0 -2.6 1.4M825.4 443.4a1.45 2.25 -28 1 0 2.6 -1.4a1.45 2.25 -28 1 0 -2.6 1.4M826.5 448.8a1.45 2.25 -28 1 0 2.6 -1.4a1.45 2.25 -28 1 0 -2.6 1.4M827.6 454.2a1.45 2.25 -28 1 0 2.6 -1.4a1.45 2.25 -28 1 0 -2.6 1.4M828.7 459.6a1.45 2.25 -28 1 0 2.6 -1.4a1.45 2.25 -28 1 0 -2.6 1.4M829.8 465.0a1.45 2.25 -28 1 0 2.6 -1.4a1.45 2.25 -28 1 0 -2.6 1.4M830.9 470.4a1.45 2.25 -28 1 0 2.6 -1.4a1.45 2.25 -28 1 0 -2.6 1.4M832.0 475.8a1.45 2.25 -28 1 0 2.6 -1.4a1.45 2.25 -28 1 0 -2.6 1.4M833.1 481.2a1.45 2.25 -28 1 0 2.6 -1.4a1.45 2.25 -28 1 0 -2.6 1.4M834.2 486.6a1.45 2.25 -28 1 0 2.6 -1.4a1.45 2.25 -28 1 0 -2.6 1.4M835.3 492.0a1.45 2.25 -28 1 0 2.6 -1.4a1.45 2.25 -28 1 0 -2.6 1.4M836.4 497.4a1.45 2.25 -28 1 0 2.6 -1.4a1.45 2.25 -28 1 0 -2.6 1.4M837.5 502.8a1.45 2.25 -28 1 0 2.6 -1.4a1.45 2.25 -28 1 0 -2.6 1.4M838.6 508.2a1.45 2.25 -28 1 0 2.6 -1.4a1.45 2.25 -28 1 0 -2.6 1.4M839.7 513.6a1.45 2.25 -28 1 0 2.6 -1.4a1.45 2.25 -28 1 0 -2.6 1.4M840.8 519.0a1.45 2.25 -28 1 0 2.6 -1.4a1.45 2.25 -28 1 0 -2.6 1.4M841.9 524.4a1.45 2.25 -28 1 0 2.6 -1.4a1.45 2.25 -28 1 0 -2.6 1.4M843.0 529.8a1.45 2.25 -28 1 0 2.6 -1.4a1.45 2.25 -28 1 0 -2.6 1.4M844.1 535.2a1.45 2.25 -28 1 0 2.6 -1.4a1.45 2.25 -28 1 0 -2.6 1.4M825.6 423.5a1.45 2.25 -28 1 0 2.6 -1.4a1.45 2.25 -28 1 0 -2.6 1.4M826.7 428.9a1.45 2.25 -28 1 0 2.6 -1.4a1.45 2.25 -28 1 0 -2.6 1.4M827.8 434.3a1.45 2.25 -28 1 0 2.6 -1.4a1.45 2.25 -28 1 0 -2.6 1.4M828.9 439.7a1.45 2.25 -28 1 0 2.6 -1.4a1.45 2.25 -28 1 0 -2.6 1.4M830.0 445.1a1.45 2.25 -28 1 0 2.6 -1.4a1.45 2.25 -28 1 0 -2.6 1.4M831.1 450.5a1.45 2.25 -28 1 0 2.6 -1.4a1.45 2.25 -28 1 0 -2.6 1.4M832.2 455.9a1.45 2.25 -28 1 0 2.6 -1.4a1.45 2.25 -28 1 0 -2.6 1.4M833.3 461.3a1.45 2.25 -28 1 0 2.6 -1.4a1.45 2.25 -28 1 0 -2.6 1.4M834.4 466.7a1.45 2.25 -28 1 0 2.6 -1.4a1.45 2.25 -28 1 0 -2.6 1.4M835.5 472.1a1.45 2.25 -28 1 0 2.6 -1.4a1.45 2.25 -28 1 0 -2.6 1.4M836.6 477.5a1.45 2.25 -28 1 0 2.6 -1.4a1.45 2.25 -28 1 0 -2.6 1.4M837.7 482.9a1.45 2.25 -28 1 0 2.6 -1.4a1.45 2.25 -28 1 0 -2.6 1.4M838.8 488.3a1.45 2.25 -28 1 0 2.6 -1.4a1.45 2.25 -28 1 0 -2.6 1.4M839.9 493.7a1.45 2.25 -28 1 0 2.6 -1.4a1.45 2.25 -28 1 0 -2.6 1.4M841.0 499.1a1.45 2.25 -28 1 0 2.6 -1.4a1.45 2.25 -28 1 0 -2.6 1.4M842.1 504.5a1.45 2.25 -28 1 0 2.6 -1.4a1.45 2.25 -28 1 0 -2.6 1.4M843.2 509.9a1.45 2.25 -28 1 0 2.6 -1.4a1.45 2.25 -28 1 0 -2.6 1.4M844.3 515.3a1.45 2.25 -28 1 0 2.6 -1.4a1.45 2.25 -28 1 0 -2.6 1.4M845.4 520.7a1.45 2.25 -28 1 0 2.6 -1.4a1.45 2.25 -28 1 0 -2.6 1.4M846.5 526.1a1.45 2.25 -28 1 0 2.6 -1.4a1.45 2.25 -28 1 0 -2.6 1.4M847.6 531.5a1.45 2.25 -28 1 0 2.6 -1.4a1.45 2.25 -28 1 0 -2.6 1.4M848.7 536.9a1.45 2.25 -28 1 0 2.6 -1.4a1.45 2.25 -28 1 0 -2.6 1.4M830.2 425.2a1.45 2.25 -28 1 0 2.6 -1.4a1.45 2.25 -28 1 0 -2.6 1.4M831.3 430.6a1.45 2.25 -28 1 0 2.6 -1.4a1.45 2.25 -28 1 0 -2.6 1.4M832.4 436.0a1.45 2.25 -28 1 0 2.6 -1.4a1.45 2.25 -28 1 0 -2.6 1.4M833.5 441.4a1.45 2.25 -28 1 0 2.6 -1.4a1.45 2.25 -28 1 0 -2.6 1.4M834.6 446.8a1.45 2.25 -28 1 0 2.6 -1.4a1.45 2.25 -28 1 0 -2.6 1.4M835.7 452.2a1.45 2.25 -28 1 0 2.6 -1.4a1.45 2.25 -28 1 0 -2.6 1.4M836.8 457.6a1.45 2.25 -28 1 0 2.6 -1.4a1.45 2.25 -28 1 0 -2.6 1.4M837.9 463.0a1.45 2.25 -28 1 0 2.6 -1.4a1.45 2.25 -28 1 0 -2.6 1.4M839.0 468.4a1.45 2.25 -28 1 0 2.6 -1.4a1.45 2.25 -28 1 0 -2.6 1.4M840.1 473.8a1.45 2.25 -28 1 0 2.6 -1.4a1.45 2.25 -28 1 0 -2.6 1.4M841.2 479.2a1.45 2.25 -28 1 0 2.6 -1.4a1.45 2.25 -28 1 0 -2.6 1.4M842.3 484.6a1.45 2.25 -28 1 0 2.6 -1.4a1.45 2.25 -28 1 0 -2.6 1.4M843.4 490.0a1.45 2.25 -28 1 0 2.6 -1.4a1.45 2.25 -28 1 0 -2.6 1.4M844.5 495.4a1.45 2.25 -28 1 0 2.6 -1.4a1.45 2.25 -28 1 0 -2.6 1.4M845.6 500.8a1.45 2.25 -28 1 0 2.6 -1.4a1.45 2.25 -28 1 0 -2.6 1.4M846.7 506.2a1.45 2.25 -28 1 0 2.6 -1.4a1.45 2.25 -28 1 0 -2.6 1.4M847.8 511.6a1.45 2.25 -28 1 0 2.6 -1.4a1.45 2.25 -28 1 0 -2.6 1.4M848.9 517.0a1.45 2.25 -28 1 0 2.6 -1.4a1.45 2.25 -28 1 0 -2.6 1.4M850.0 522.4a1.45 2.25 -28 1 0 2.6 -1.4a1.45 2.25 -28 1 0 -2.6 1.4M851.1 527.8a1.45 2.25 -28 1 0 2.6 -1.4a1.45 2.25 -28 1 0 -2.6 1.4M852.2 533.2a1.45 2.25 -28 1 0 2.6 -1.4a1.45 2.25 -28 1 0 -2.6 1.4M853.3 538.6a1.45 2.25 -28 1 0 2.6 -1.4a1.45 2.25 -28 1 0 -2.6 1.4M838.1 443.1a1.45 2.25 -28 1 0 2.6 -1.4a1.45 2.25 -28 1 0 -2.6 1.4M839.2 448.5a1.45 2.25 -28 1 0 2.6 -1.4a1.45 2.25 -28 1 0 -2.6 1.4M840.3 453.9a1.45 2.25 -28 1 0 2.6 -1.4a1.45 2.25 -28 1 0 -2.6 1.4M841.4 459.3a1.45 2.25 -28 1 0 2.6 -1.4a1.45 2.25 -28 1 0 -2.6 1.4M842.5 464.7a1.45 2.25 -28 1 0 2.6 -1.4a1.45 2.25 -28 1 0 -2.6 1.4M843.6 470.1a1.45 2.25 -28 1 0 2.6 -1.4a1.45 2.25 -28 1 0 -2.6 1.4M844.7 475.5a1.45 2.25 -28 1 0 2.6 -1.4a1.45 2.25 -28 1 0 -2.6 1.4M845.8 480.9a1.45 2.25 -28 1 0 2.6 -1.4a1.45 2.25 -28 1 0 -2.6 1.4M846.9 486.3a1.45 2.25 -28 1 0 2.6 -1.4a1.45 2.25 -28 1 0 -2.6 1.4M848.0 491.7a1.45 2.25 -28 1 0 2.6 -1.4a1.45 2.25 -28 1 0 -2.6 1.4M849.1 497.1a1.45 2.25 -28 1 0 2.6 -1.4a1.45 2.25 -28 1 0 -2.6 1.4M850.2 502.5a1.45 2.25 -28 1 0 2.6 -1.4a1.45 2.25 -28 1 0 -2.6 1.4M851.3 507.9a1.45 2.25 -28 1 0 2.6 -1.4a1.45 2.25 -28 1 0 -2.6 1.4M852.4 513.3a1.45 2.25 -28 1 0 2.6 -1.4a1.45 2.25 -28 1 0 -2.6 1.4M853.5 518.7a1.45 2.25 -28 1 0 2.6 -1.4a1.45 2.25 -28 1 0 -2.6 1.4M854.6 524.1a1.45 2.25 -28 1 0 2.6 -1.4a1.45 2.25 -28 1 0 -2.6 1.4M855.7 529.5a1.45 2.25 -28 1 0 2.6 -1.4a1.45 2.25 -28 1 0 -2.6 1.4M856.8 534.9a1.45 2.25 -28 1 0 2.6 -1.4a1.45 2.25 -28 1 0 -2.6 1.4M857.9 540.3a1.45 2.25 -28 1 0 2.6 -1.4a1.45 2.25 -28 1 0 -2.6 1.4M849.3 477.2a1.45 2.25 -28 1 0 2.6 -1.4a1.45 2.25 -28 1 0 -2.6 1.4M850.4 482.6a1.45 2.25 -28 1 0 2.6 -1.4a1.45 2.25 -28 1 0 -2.6 1.4M851.5 488.0a1.45 2.25 -28 1 0 2.6 -1.4a1.45 2.25 -28 1 0 -2.6 1.4M852.6 493.4a1.45 2.25 -28 1 0 2.6 -1.4a1.45 2.25 -28 1 0 -2.6 1.4M853.7 498.8a1.45 2.25 -28 1 0 2.6 -1.4a1.45 2.25 -28 1 0 -2.6 1.4M854.8 504.2a1.45 2.25 -28 1 0 2.6 -1.4a1.45 2.25 -28 1 0 -2.6 1.4M855.9 509.6a1.45 2.25 -28 1 0 2.6 -1.4a1.45 2.25 -28 1 0 -2.6 1.4M857.0 515.0a1.45 2.25 -28 1 0 2.6 -1.4a1.45 2.25 -28 1 0 -2.6 1.4M858.1 520.4a1.45 2.25 -28 1 0 2.6 -1.4a1.45 2.25 -28 1 0 -2.6 1.4M859.2 525.8a1.45 2.25 -28 1 0 2.6 -1.4a1.45 2.25 -28 1 0 -2.6 1.4M860.3 531.2a1.45 2.25 -28 1 0 2.6 -1.4a1.45 2.25 -28 1 0 -2.6 1.4M861.4 536.6a1.45 2.25 -28 1 0 2.6 -1.4a1.45 2.25 -28 1 0 -2.6 1.4M862.5 542.0a1.45 2.25 -28 1 0 2.6 -1.4a1.45 2.25 -28 1 0 -2.6 1.4M859.4 505.9a1.45 2.25 -28 1 0 2.6 -1.4a1.45 2.25 -28 1 0 -2.6 1.4M860.5 511.3a1.45 2.25 -28 1 0 2.6 -1.4a1.45 2.25 -28 1 0 -2.6 1.4M861.6 516.7a1.45 2.25 -28 1 0 2.6 -1.4a1.45 2.25 -28 1 0 -2.6 1.4M862.7 522.1a1.45 2.25 -28 1 0 2.6 -1.4a1.45 2.25 -28 1 0 -2.6 1.4M863.8 527.5a1.45 2.25 -28 1 0 2.6 -1.4a1.45 2.25 -28 1 0 -2.6 1.4M864.9 532.9a1.45 2.25 -28 1 0 2.6 -1.4a1.45 2.25 -28 1 0 -2.6 1.4M866.0 538.3a1.45 2.25 -28 1 0 2.6 -1.4a1.45 2.25 -28 1 0 -2.6 1.4M867.1 543.7a1.45 2.25 -28 1 0 2.6 -1.4a1.45 2.25 -28 1 0 -2.6 1.4M870.6 540.0a1.45 2.25 -28 1 0 2.6 -1.4a1.45 2.25 -28 1 0 -2.6 1.4M871.7 545.4a1.45 2.25 -28 1 0 2.6 -1.4a1.45 2.25 -28 1 0 -2.6 1.4" fill="none" stroke="#2a2a2a" stroke-width="0.9"/>
<path d="M829.2 542.4a1.4 2.6 25 1 0 2.5 1.2a1.4 2.6 25 1 0 -2.5 -1.2M826.8 548.0a1.4 2.6 25 1 0 2.5 1.2a1.4 2.6 25 1 0 -2.5 -1.2M824.4 553.6a1.4 2.6 25 1 0 2.5 1.2a1.4 2.6 25 1 0 -2.5 -1.2M835.0 545.0a1.4 2.6 25 1 0 2.5 1.2a1.4 2.6 25 1 0 -2.5 -1.2M832.6 550.6a1.4 2.6 25 1 0 2.5 1.2a1.4 2.6 25 1 0 -2.5 -1.2M830.2 556.2a1.4 2.6 25 1 0 2.5 1.2a1.4 2.6 25 1 0 -2.5 -1.2M840.8 547.6a1.4 2.6 25 1 0 2.5 1.2a1.4 2.6 25 1 0 -2.5 -1.2M838.4 553.2a1.4 2.6 25 1 0 2.5 1.2a1.4 2.6 25 1 0 -2.5 -1.2M836.0 558.8a1.4 2.6 25 1 0 2.5 1.2a1.4 2.6 25 1 0 -2.5 -1.2M846.6 550.2a1.4 2.6 25 1 0 2.5 1.2a1.4 2.6 25 1 0 -2.5 -1.2M844.2 555.8a1.4 2.6 25 1 0 2.5 1.2a1.4 2.6 25 1 0 -2.5 -1.2M841.8 561.4a1.4 2.6 25 1 0 2.5 1.2a1.4 2.6 25 1 0 -2.5 -1.2" fill="none" stroke="#2a2a2a" stroke-width="0.9"/>
<path d="M832.3 386.2 L848.0 370.5 L871.5 380.0 L872.5 382.0 L836.0 415.5 L827.0 415.8 Z" fill="none" stroke="#141414" stroke-width="0.97" />
<path d="M872.5 382.0 L887.0 386.0 L889.5 392.0 L891.5 430.0 L894.0 470.0 L896.0 515.0 L900.0 518.0 L902.5 535.0 L900.0 552.5 L890.0 559.0 L884.5 555.5 L836.8 417.5 Z" fill="none" stroke="#141414" stroke-width="0.97" />
<path d="M811.3 416.5 L834.5 417.0 L882.5 556.0 L827.5 535.5 L816.5 462.0 Z" fill="none" stroke="#141414" stroke-width="0.97" />
<path d="M827.5 536.0 L854.0 546.0 L846.0 566.0 L822.5 560.0 L817.5 571.0 L809.0 565.0 L807.5 556.0 L821.0 544.0 Z" fill="none" stroke="#141414" stroke-width="0.97" />
<line x1="871.5" y1="380.0" x2="834.5" y2="417.0" stroke="#141414" stroke-width="0.76"/>
<line x1="872.8" y1="381.3" x2="835.6" y2="418.0" stroke="#141414" stroke-width="0.65"/>
<ellipse cx="814.0" cy="560.3" rx="1.60" ry="2.60" fill="none" stroke="#141414" stroke-width="0.86" transform="rotate(25 814.0 560.3)"/>
<ellipse cx="889.0" cy="541.3" rx="1.30" ry="1.60" fill="none" stroke="#141414" stroke-width="0.76"/>
<ellipse cx="882.8" cy="426.2" rx="1.30" ry="1.50" fill="none" stroke="#141414" stroke-width="0.76"/>
<ellipse cx="816.6" cy="428.0" rx="1.10" ry="1.40" fill="none" stroke="#141414" stroke-width="0.76"/>
<circle cx="859.3" cy="450.3" r="3.10" fill="#fff" stroke="#141414" stroke-width="1.62"/>
<circle cx="859.3" cy="450.5" r="1.40" fill="#555" stroke="#141414" stroke-width="0.97"/>
<line x1="861.5" y1="448.0" x2="881.5" y2="427.5" stroke="#333" stroke-width="0.70" stroke-dasharray="1.1 1.5" stroke-linecap="butt"/>
<line x1="804.0" y1="506.0" x2="820.0" y2="495.0" stroke="#141414" stroke-width="0.76"/>
<path d="M774 400.8 Q770.3 395 770.2 387 Q770.8 380 777.5 378.6 Q784.5 379 786 386 L786 388 L785.2 432.5 Q784.5 436.5 781 436.8 Q778 436.8 777.8 433.5 L776.5 412 Z" fill="#fff" stroke="#141414" stroke-width="1.03" />
<path d="M783.3 392.5 L775.8 401.5 M782.3 394 L782 432" fill="none" stroke="#141414" stroke-width="0.76" />
<ellipse cx="776.9" cy="388.6" rx="1.30" ry="2.00" fill="none" stroke="#141414" stroke-width="0.92" transform="rotate(15 776.9 388.6)"/>
<path d="M760.9 403.2 L774.0 408.8 L774.2 418.6 L762.0 415.2 Z" fill="#fff" stroke="#141414" stroke-width="0.97" />
<ellipse cx="766.6" cy="410.6" rx="2.70" ry="1.80" fill="none" stroke="#141414" stroke-width="0.92" transform="rotate(22 766.6 410.6)"/>
<ellipse cx="766.6" cy="410.6" rx="1.40" ry="0.80" fill="none" stroke="#141414" stroke-width="0.65" transform="rotate(22 766.6 410.6)"/>
<path d="M778.8 400 L781.3 398.8 L781.3 404.8 L778.9 406.5 Z M779 412.5 L781.4 411.3 L781.4 417.5 L779.1 419 Z" fill="none" stroke="#141414" stroke-width="0.70" />
<ellipse cx="781.2" cy="429.6" rx="0.90" ry="1.40" fill="none" stroke="#141414" stroke-width="0.70"/>
<line x1="761.0" y1="404.5" x2="750.5" y2="406.0" stroke="#333" stroke-width="0.70" stroke-dasharray="1.1 1.5" stroke-linecap="butt"/>
<line x1="750.5" y1="406.0" x2="777.5" y2="370.0" stroke="#333" stroke-width="0.70" stroke-dasharray="1.1 1.5" stroke-linecap="butt"/>
<line x1="777.5" y1="370.0" x2="796.0" y2="375.5" stroke="#333" stroke-width="0.70" stroke-dasharray="1.1 1.5" stroke-linecap="butt"/>
<line x1="791.0" y1="402.5" x2="785.0" y2="405.0" stroke="#141414" stroke-width="0.76"/>
<path d="M795.5 369.0 L803.0 371.5 L803.5 383.5 L796.3 381.0 Z" fill="#fff" stroke="#141414" stroke-width="0.97" />
<path d="M795.5 369.0 L797.5 367.0 L804.5 370.0 L803.0 371.5" fill="none" stroke="#141414" stroke-width="0.86" />
<line x1="804.5" y1="370.0" x2="805.0" y2="381.5" stroke="#141414" stroke-width="0.86"/>
<line x1="805.0" y1="381.5" x2="803.5" y2="383.5" stroke="#141414" stroke-width="0.86"/>
<ellipse cx="799.2" cy="376.9" rx="1.60" ry="2.00" fill="none" stroke="#141414" stroke-width="0.86" transform="rotate(20 799.2 376.9)"/>
<path d="M805 381 L809.5 383" fill="none" stroke="#141414" stroke-width="0.86" />
<line x1="804.0" y1="364.5" x2="800.0" y2="370.0" stroke="#141414" stroke-width="0.76"/>
<path d="M795.5 435.0 L789.0 431.8 L788.0 433.8 L794.5 437.0 Z" fill="#fff" stroke="#141414" stroke-width="0.81" />
<ellipse cx="795.0" cy="436.0" rx="1.96" ry="2.80" fill="#fff" stroke="#141414" stroke-width="1.08" transform="rotate(-153.78862198216856 795.0 436.0)"/>
<line x1="796.0" y1="429.5" x2="794.8" y2="433.5" stroke="#141414" stroke-width="0.76"/>
<path d="M787.9 452.0 L796.6 447.0 L795.4 445.0 L786.7 450.0 Z" fill="#fff" stroke="#141414" stroke-width="0.81" />
<ellipse cx="787.3" cy="451.0" rx="2.10" ry="3.00" fill="#fff" stroke="#141414" stroke-width="1.08" transform="rotate(-29.886526940423902 787.3 451.0)"/>
<ellipse cx="787.3" cy="451.0" rx="0.90" ry="1.50" fill="#777" stroke="#141414" stroke-width="0.76" transform="rotate(-29.886526940423902 787.3 451.0)"/>
<line x1="796.8" y1="445.3" x2="816.0" y2="429.0" stroke="#333" stroke-width="0.70" stroke-dasharray="1.1 1.5" stroke-linecap="butt"/>
<line x1="780.0" y1="459.5" x2="786.0" y2="453.5" stroke="#141414" stroke-width="0.76"/>
<path d="M766.0 543.7 L778.5 548.7 L779.5 546.3 L767.0 541.3 Z" fill="#fff" stroke="#141414" stroke-width="0.81" />
<ellipse cx="766.5" cy="542.5" rx="2.52" ry="3.60" fill="#fff" stroke="#141414" stroke-width="1.08" transform="rotate(21.80140948635181 766.5 542.5)"/>
<ellipse cx="766.5" cy="542.5" rx="1.08" ry="1.80" fill="#777" stroke="#141414" stroke-width="0.76" transform="rotate(21.80140948635181 766.5 542.5)"/>
<circle cx="765.8" cy="542.3" r="3.30" fill="#fff" stroke="#141414" stroke-width="0.97"/>
<circle cx="765.8" cy="542.3" r="1.60" fill="#666" stroke="#141414" stroke-width="0.86"/>
<line x1="780.0" y1="548.0" x2="809.0" y2="559.0" stroke="#333" stroke-width="0.70" stroke-dasharray="1.1 1.5" stroke-linecap="butt"/>
<line x1="756.0" y1="556.0" x2="764.5" y2="545.5" stroke="#141414" stroke-width="0.76"/>
<path d="M869.5 560 L873 556.5 L875 558.5 L871.5 562" fill="none" stroke="#141414" stroke-width="0.86" />
<circle cx="867.3" cy="562.5" r="3.20" fill="#fff" stroke="#141414" stroke-width="1.62"/>
<circle cx="867.3" cy="562.7" r="1.40" fill="#555" stroke="#141414" stroke-width="0.97"/>
<line x1="874.5" y1="556.5" x2="888.5" y2="542.0" stroke="#333" stroke-width="0.70" stroke-dasharray="1.1 1.5" stroke-linecap="butt"/>
<line x1="860.0" y1="570.0" x2="865.5" y2="565.0" stroke="#141414" stroke-width="0.76"/>
<path d="M937.5 404 L936.8 388 Q937 383.5 939.5 383.3 Q941.8 383.8 942 388 L943 430 L945.5 521 M939.8 421 L942.5 521 M941 392 L944 500" fill="none" stroke="#141414" stroke-width="0.92" />
<ellipse cx="939.5" cy="388.0" rx="0.80" ry="1.60" fill="none" stroke="#141414" stroke-width="0.65"/>
<line x1="951.0" y1="449.0" x2="944.3" y2="455.0" stroke="#141414" stroke-width="0.76"/>
<path d="M921.5 405.5 L936.5 409.0 L936.8 421.5 L922.0 418.0 Z" fill="#fff" stroke="#141414" stroke-width="0.97" />
<path d="M921.5 405.5 L924 403.5 L937.5 406.5 L936.5 409" fill="none" stroke="#141414" stroke-width="0.86" />
<ellipse cx="929.2" cy="413.6" rx="3.20" ry="2.00" fill="none" stroke="#141414" stroke-width="0.86" transform="rotate(15 929.2 413.6)"/>
<path d="M929.0 521.5 L944.8 524.5 L945.0 536.5 L929.5 533.5 Z" fill="#fff" stroke="#141414" stroke-width="0.97" />
<path d="M929 521.5 L931.5 519.5 L945.5 522 L944.8 524.5" fill="none" stroke="#141414" stroke-width="0.86" />
<ellipse cx="936.8" cy="529.0" rx="3.20" ry="2.00" fill="none" stroke="#141414" stroke-width="0.86" transform="rotate(15 936.8 529.0)"/>
<path d="M905 402.8 L915 402 M905 407 L915 406.3" fill="none" stroke="#141414" stroke-width="0.86" />
<ellipse cx="915.0" cy="404.2" rx="1.00" ry="2.20" fill="#fff" stroke="#141414" stroke-width="0.86"/>
<ellipse cx="904.3" cy="405.0" rx="1.70" ry="3.60" fill="#fff" stroke="#141414" stroke-width="0.97" transform="rotate(-5 904.3 405.0)"/>
<ellipse cx="919.5" cy="403.2" rx="1.40" ry="3.60" fill="#777" stroke="#141414" stroke-width="1.19" transform="rotate(-5 919.5 403.2)"/>
<ellipse cx="955.5" cy="400.0" rx="1.40" ry="3.60" fill="#777" stroke="#141414" stroke-width="1.19" transform="rotate(-5 955.5 400.0)"/>
<ellipse cx="967.0" cy="398.2" rx="2.30" ry="3.60" fill="#fff" stroke="#141414" stroke-width="0.97" transform="rotate(-5 967.0 398.2)"/>
<ellipse cx="967.0" cy="398.2" rx="1.10" ry="2.00" fill="none" stroke="#141414" stroke-width="0.76" transform="rotate(-5 967.0 398.2)"/>
<line x1="922.0" y1="403.0" x2="964.5" y2="399.3" stroke="#333" stroke-width="0.70" stroke-dasharray="1.1 1.5" stroke-linecap="butt"/>
<line x1="955.0" y1="376.0" x2="914.0" y2="372.5" stroke="#333" stroke-width="0.70" stroke-dasharray="1.1 1.5" stroke-linecap="butt"/>
<line x1="914.0" y1="372.5" x2="895.0" y2="411.0" stroke="#333" stroke-width="0.70" stroke-dasharray="1.1 1.5" stroke-linecap="butt"/>
<line x1="895.0" y1="411.0" x2="921.0" y2="415.5" stroke="#333" stroke-width="0.70" stroke-dasharray="1.1 1.5" stroke-linecap="butt"/>
<path d="M955.5 370.5 L964.0 372.0 L964.5 385.0 L956.3 383.5 Z" fill="#fff" stroke="#141414" stroke-width="0.97" />
<path d="M955.5 370.5 L957.5 368.5 L965.5 370.5 L964.0 372.0" fill="none" stroke="#141414" stroke-width="0.86" />
<line x1="965.5" y1="370.5" x2="966.0" y2="383.0" stroke="#141414" stroke-width="0.86"/>
<line x1="966.0" y1="383.0" x2="964.5" y2="385.0" stroke="#141414" stroke-width="0.86"/>
<ellipse cx="959.8" cy="378.4" rx="1.60" ry="2.00" fill="none" stroke="#141414" stroke-width="0.86" transform="rotate(20 959.8 378.4)"/>
<line x1="965.0" y1="365.5" x2="960.0" y2="371.5" stroke="#141414" stroke-width="0.76"/>
<line x1="926.0" y1="395.5" x2="921.0" y2="402.0" stroke="#141414" stroke-width="0.76"/>
<line x1="976.0" y1="392.5" x2="969.3" y2="397.0" stroke="#141414" stroke-width="0.76"/>
<line x1="964.0" y1="412.5" x2="957.0" y2="403.5" stroke="#141414" stroke-width="0.76"/>
<line x1="906.0" y1="416.0" x2="909.0" y2="410.0" stroke="#141414" stroke-width="0.76"/>
<path d="M903 518 L913 517.5 M903 522 L913 521.5" fill="none" stroke="#141414" stroke-width="0.86" />
<ellipse cx="913.0" cy="519.6" rx="1.00" ry="2.10" fill="#fff" stroke="#141414" stroke-width="0.86"/>
<ellipse cx="902.0" cy="520.0" rx="1.70" ry="3.40" fill="#fff" stroke="#141414" stroke-width="0.97" transform="rotate(-5 902.0 520.0)"/>
<ellipse cx="922.0" cy="518.3" rx="1.40" ry="3.60" fill="#777" stroke="#141414" stroke-width="1.19" transform="rotate(-5 922.0 518.3)"/>
<ellipse cx="957.5" cy="514.2" rx="1.40" ry="3.60" fill="#777" stroke="#141414" stroke-width="1.19" transform="rotate(-5 957.5 514.2)"/>
<ellipse cx="969.0" cy="513.3" rx="2.30" ry="3.60" fill="#fff" stroke="#141414" stroke-width="0.97" transform="rotate(-5 969.0 513.3)"/>
<ellipse cx="969.0" cy="513.3" rx="1.10" ry="2.00" fill="none" stroke="#141414" stroke-width="0.76" transform="rotate(-5 969.0 513.3)"/>
<line x1="924.5" y1="518.0" x2="966.5" y2="513.6" stroke="#333" stroke-width="0.70" stroke-dasharray="1.1 1.5" stroke-linecap="butt"/>
<line x1="962.5" y1="492.5" x2="940.5" y2="520.5" stroke="#333" stroke-width="0.70" stroke-dasharray="1.1 1.5" stroke-linecap="butt"/>
<path d="M962.5 484.0 L971.0 485.5 L971.5 498.5 L963.3 497.0 Z" fill="#fff" stroke="#141414" stroke-width="0.97" />
<path d="M962.5 484.0 L964.5 482.0 L972.5 484.0 L971.0 485.5" fill="none" stroke="#141414" stroke-width="0.86" />
<line x1="972.5" y1="484.0" x2="973.0" y2="496.5" stroke="#141414" stroke-width="0.86"/>
<line x1="973.0" y1="496.5" x2="971.5" y2="498.5" stroke="#141414" stroke-width="0.86"/>
<ellipse cx="966.8" cy="491.9" rx="1.60" ry="2.00" fill="none" stroke="#141414" stroke-width="0.86" transform="rotate(20 966.8 491.9)"/>
<line x1="974.0" y1="481.0" x2="968.0" y2="486.5" stroke="#141414" stroke-width="0.76"/>
<line x1="911.0" y1="511.0" x2="906.0" y2="518.5" stroke="#141414" stroke-width="0.76"/>
<line x1="916.0" y1="530.5" x2="922.3" y2="521.5" stroke="#141414" stroke-width="0.76"/>
<line x1="959.5" y1="525.0" x2="958.0" y2="517.5" stroke="#141414" stroke-width="0.76"/>
<line x1="975.0" y1="524.0" x2="970.0" y2="516.5" stroke="#141414" stroke-width="0.76"/>
</g>
<g id="labels" style="filter:grayscale(1)">
<text x="71.2" y="216.0" font-size="15.8" text-anchor="middle">30</text>
<text x="88.9" y="228.0" font-size="15.8" text-anchor="middle">31</text>
<text x="110.3" y="224.0" font-size="15.8" text-anchor="middle">34</text>
<text x="48.0" y="242.0" font-size="15.8" text-anchor="middle">32</text>
<text x="55.8" y="255.0" font-size="15.8" text-anchor="middle">33</text>
<text x="188.6" y="261.0" font-size="15.8" text-anchor="middle">35</text>
<text x="204.9" y="272.0" font-size="15.8" text-anchor="middle">38</text>
<text x="217.7" y="290.0" font-size="15.8" text-anchor="middle">36</text>
<text x="67.5" y="298.0" font-size="15.8" text-anchor="middle">29</text>
<text x="42.4" y="327.0" font-size="15.8" text-anchor="middle">30</text>
<text x="55.0" y="340.0" font-size="15.8" text-anchor="middle">32</text>
<text x="101.3" y="327.0" font-size="15.8" text-anchor="middle">34</text>
<text x="87.6" y="374.0" font-size="15.8" text-anchor="middle">31</text>
<text x="87.2" y="387.0" font-size="15.8" text-anchor="middle">32</text>
<text x="111.5" y="392.0" font-size="15.8" text-anchor="middle">28</text>
<text x="217.4" y="403.0" font-size="15.8" text-anchor="middle">27</text>
<text x="437.8" y="114.0" font-size="15.8" text-anchor="middle">12</text>
<text x="361.9" y="176.0" font-size="15.8" text-anchor="middle">8</text>
<text x="300.4" y="303.0" font-size="15.8" text-anchor="middle">25</text>
<text x="260.6" y="359.0" font-size="15.8" text-anchor="middle">15</text>
<text x="276.6" y="409.0" font-size="15.8" text-anchor="middle">14</text>
<text x="391.3" y="418.0" font-size="15.8" text-anchor="middle">21</text>
<text x="458.3" y="486.0" font-size="15.8" text-anchor="middle">26</text>
<text x="423.7" y="528.0" font-size="15.8" text-anchor="middle">2</text>
<text x="504.9" y="554.0" font-size="15.8" text-anchor="middle">1</text>
<text x="330.7" y="587.0" font-size="15.8" text-anchor="middle">19</text>
<text x="454.1" y="609.0" font-size="15.8" text-anchor="middle">21</text>
<text x="505.1" y="614.0" font-size="15.8" text-anchor="middle">3</text>
<text x="558.6" y="82.0" font-size="15.8" text-anchor="middle">20</text>
<text x="555.5" y="131.0" font-size="15.8" text-anchor="middle">16</text>
<text x="645.5" y="105.0" font-size="15.8" text-anchor="middle">11</text>
<text x="640.2" y="161.0" font-size="15.8" text-anchor="middle">20</text>
<text x="500.0" y="200.0" font-size="15.8" text-anchor="middle">22</text>
<text x="551.1" y="222.0" font-size="15.8" text-anchor="middle">17</text>
<text x="591.7" y="243.0" font-size="15.8" text-anchor="middle">22</text>
<text x="662.8" y="259.0" font-size="15.8" text-anchor="middle">4</text>
<text x="510.8" y="289.0" font-size="15.8" text-anchor="middle">13</text>
<text x="544.0" y="295.0" font-size="15.8" text-anchor="middle">24</text>
<text x="668.8" y="288.0" font-size="15.8" text-anchor="middle">7</text>
<text x="491.5" y="322.0" font-size="15.8" text-anchor="middle">37</text>
<text x="546.0" y="376.0" font-size="15.8" text-anchor="middle">23</text>
<text x="488.8" y="393.0" font-size="15.8" text-anchor="middle">23</text>
<text x="515.9" y="401.0" font-size="15.8" text-anchor="middle">24</text>
<text x="541.2" y="396.0" font-size="15.8" text-anchor="middle">49</text>
<text x="523.6" y="437.0" font-size="15.8" text-anchor="middle">13</text>
<text x="531.6" y="471.0" font-size="15.8" text-anchor="middle">18</text>
<text x="709.3" y="455.0" font-size="15.8" text-anchor="middle">25</text>
<text x="616.9" y="548.0" font-size="15.8" text-anchor="middle">21</text>
<text x="723.7" y="24.0" font-size="15.8" text-anchor="middle">9</text>
<text x="762.9" y="34.0" font-size="15.8" text-anchor="middle">10</text>
<text x="690.3" y="152.0" font-size="15.8" text-anchor="middle">6</text>
<text x="708.7" y="286.0" font-size="15.8" text-anchor="middle">5</text>
<text x="811.3" y="362.0" font-size="15.8" text-anchor="middle">50</text>
<text x="800.9" y="402.0" font-size="15.8" text-anchor="middle">47</text>
<text x="799.4" y="425.0" font-size="15.8" text-anchor="middle">48</text>
<text x="777.3" y="470.0" font-size="15.8" text-anchor="middle">40</text>
<text x="971.7" y="363.0" font-size="15.8" text-anchor="middle">46</text>
<text x="984.1" y="390.0" font-size="15.8" text-anchor="middle">43</text>
<text x="926.8" y="393.0" font-size="15.8" text-anchor="middle">42</text>
<text x="972.5" y="418.0" font-size="15.8" text-anchor="middle">44</text>
<text x="906.8" y="428.0" font-size="15.8" text-anchor="middle">45</text>
<text x="958.3" y="447.0" font-size="15.8" text-anchor="middle">41</text>
<text x="980.1" y="478.0" font-size="15.8" text-anchor="middle">46</text>
<text x="794.8" y="511.0" font-size="15.8" text-anchor="middle">39</text>
<text x="915.3" y="509.0" font-size="15.8" text-anchor="middle">42</text>
<text x="914.8" y="541.0" font-size="15.8" text-anchor="middle">44</text>
<text x="963.4" y="536.0" font-size="15.8" text-anchor="middle">44</text>
<text x="982.0" y="536.0" font-size="15.8" text-anchor="middle">43</text>
<text x="757.3" y="568.0" font-size="15.8" text-anchor="middle">40</text>
<text x="858.9" y="583.0" font-size="15.8" text-anchor="middle">40</text>
</g>
</svg>
</body></html>
